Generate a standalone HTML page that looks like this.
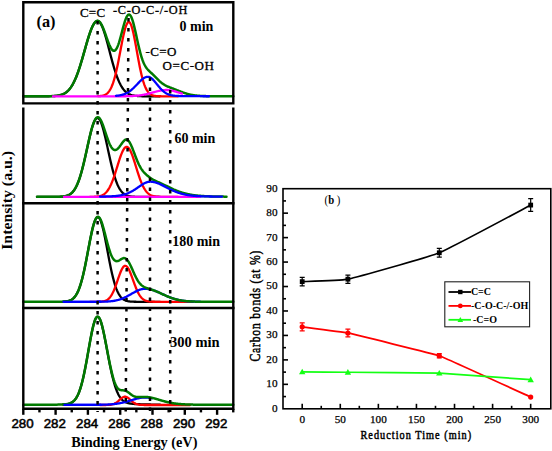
<!DOCTYPE html>
<html><head><meta charset="utf-8"><style>
html,body{margin:0;padding:0;background:#fff;}
body{width:552px;height:451px;overflow:hidden;position:relative;}
svg{position:absolute;left:0;top:0;}
.serif{font-family:"Liberation Serif",serif;}
.sans{font-family:"Liberation Sans",sans-serif;}
</style></head><body>
<svg width="552" height="451" viewBox="0 0 552 451">
<g stroke-linecap="round" stroke-linejoin="round">
<path d="M23.30,96.30 L23.80,96.30 L24.30,96.30 L24.80,96.30 L25.30,96.30 L25.80,96.30 L26.30,96.30 L26.80,96.30 L27.30,96.30 L27.80,96.30 L28.30,96.30 L28.80,96.30 L29.30,96.30 L29.80,96.30 L30.30,96.30 L30.80,96.30 L31.30,96.30 L31.80,96.30 L32.30,96.30 L32.80,96.30 L33.30,96.30 L33.80,96.30 L34.30,96.30 L34.80,96.30 L35.30,96.30 L35.80,96.30 L36.30,96.30 L36.80,96.30 L37.30,96.30 L37.80,96.30 L38.30,96.30 L38.80,96.30 L39.30,96.30 L39.80,96.30 L40.30,96.30 L40.80,96.30 L41.30,96.29 L41.80,96.29 L42.30,96.29 L42.80,96.29 L43.30,96.29 L43.80,96.29 L44.30,96.28 L44.80,96.28 L45.30,96.28 L45.80,96.28 L46.30,96.27 L46.80,96.27 L47.30,96.26 L47.80,96.25 L48.30,96.25 L48.80,96.24 L49.30,96.23 L49.80,96.22 L50.30,96.21 L50.80,96.19 L51.30,96.18 L51.80,96.16 L52.30,96.14 L52.80,96.11 L53.30,96.09 L53.80,96.06 L54.30,96.02 L54.80,95.98 L55.30,95.94 L55.80,95.89 L56.30,95.84 L56.80,95.78 L57.30,95.71 L57.80,95.63 L58.30,95.55 L58.80,95.46 L59.30,95.35 L59.80,95.24 L60.30,95.11 L60.80,94.98 L61.30,94.82 L61.80,94.65 L62.30,94.47 L62.80,94.27 L63.30,94.05 L63.80,93.81 L64.30,93.54 L64.80,93.26 L65.30,92.94 L65.80,92.61 L66.30,92.24 L66.80,91.85 L67.30,91.42 L67.80,90.96 L68.30,90.47 L68.80,89.94 L69.30,89.37 L69.80,88.77 L70.30,88.12 L70.80,87.43 L71.30,86.70 L71.80,85.92 L72.30,85.10 L72.80,84.22 L73.30,83.31 L73.80,82.34 L74.30,81.32 L74.80,80.25 L75.30,79.13 L75.80,77.97 L76.30,76.75 L76.80,75.48 L77.30,74.16 L77.80,72.80 L78.30,71.38 L78.80,69.93 L79.30,68.43 L79.80,66.88 L80.30,65.30 L80.80,63.68 L81.30,62.03 L81.80,60.36 L82.30,58.65 L82.80,56.92 L83.30,55.18 L83.80,53.42 L84.30,51.66 L84.80,49.89 L85.30,48.12 L85.80,46.36 L86.30,44.62 L86.80,42.89 L87.30,41.19 L87.80,39.52 L88.30,37.89 L88.80,36.30 L89.30,34.76 L89.80,33.27 L90.30,31.85 L90.80,30.49 L91.30,29.20 L91.80,27.99 L92.30,26.87 L92.80,25.83 L93.30,24.88 L93.80,24.03 L94.30,23.28 L94.80,22.63 L95.30,22.09 L95.80,21.65 L96.30,21.32 L96.80,21.11 L97.30,21.01 L97.80,21.02 L98.30,21.17 L98.80,21.45 L99.30,21.86 L99.80,22.40 L100.30,23.06 L100.80,23.84 L101.30,24.75 L101.80,25.77 L102.30,26.89 L102.80,28.12 L103.30,29.45 L103.80,30.86 L104.30,32.36 L104.80,33.93 L105.30,35.58 L105.80,37.28 L106.30,39.04 L106.80,40.84 L107.30,42.68 L107.80,44.56 L108.30,46.45 L108.80,48.36 L109.30,50.28 L109.80,52.20 L110.30,54.11 L110.80,56.02 L111.30,57.90 L111.80,59.76 L112.30,61.60 L112.80,63.39 L113.30,65.16 L113.80,66.87 L114.30,68.55 L114.80,70.17 L115.30,71.74 L115.80,73.26 L116.30,74.72 L116.80,76.13 L117.30,77.48 L117.80,78.77 L118.30,80.00 L118.80,81.16 L119.30,82.28 L119.80,83.33 L120.30,84.32 L120.80,85.26 L121.30,86.14 L121.80,86.97 L122.30,87.75 L122.80,88.47 L123.30,89.15 L123.80,89.78 L124.30,90.36 L124.80,90.90 L125.30,91.40 L125.80,91.87 L126.30,92.29 L126.80,92.68 L127.30,93.04 L127.80,93.37 L128.30,93.67 L128.80,93.94 L129.30,94.19 L129.80,94.42 L130.30,94.62 L130.80,94.81 L131.30,94.98 L131.80,95.13 L132.30,95.26 L132.80,95.38 L133.30,95.49 L133.80,95.59 L134.30,95.67 L134.80,95.75 L135.30,95.82 L135.80,95.88 L136.30,95.93 L136.80,95.98 L137.30,96.02 L137.80,96.06 L138.30,96.09 L138.80,96.12 L139.30,96.14 L139.80,96.17 L140.30,96.18 L140.80,96.20 L141.30,96.21 L141.80,96.23 L142.30,96.24 L142.80,96.25 L143.30,96.25 L143.80,96.26 L144.30,96.27 L144.80,96.27 L145.30,96.28 L145.80,96.28 L146.30,96.28 L146.80,96.29 L147.30,96.29 L147.80,96.29 L148.30,96.29 L148.80,96.29 L149.30,96.29 L149.80,96.30 L150.30,96.30 L150.80,96.30 L151.30,96.30 L151.80,96.30 L152.30,96.30 L152.80,96.30 L153.30,96.30 L153.80,96.30 L154.30,96.30 L154.80,96.30 L155.30,96.30 L155.80,96.30 L156.30,96.30 L156.80,96.30 L157.30,96.30 L157.80,96.30 L158.30,96.30 L158.80,96.30 L159.30,96.30 L159.80,96.30" stroke="#000000" stroke-width="2.3" fill="none"/>
<path d="M98.00,96.20 L98.50,96.17 L99.00,96.14 L99.50,96.11 L100.00,96.06 L100.50,96.01 L101.00,95.95 L101.50,95.88 L102.00,95.79 L102.50,95.69 L103.00,95.56 L103.50,95.42 L104.00,95.25 L104.50,95.06 L105.00,94.84 L105.50,94.58 L106.00,94.28 L106.50,93.93 L107.00,93.54 L107.50,93.10 L108.00,92.60 L108.50,92.03 L109.00,91.39 L109.50,90.68 L110.00,89.89 L110.50,89.01 L111.00,88.04 L111.50,86.97 L112.00,85.80 L112.50,84.52 L113.00,83.13 L113.50,81.63 L114.00,80.02 L114.50,78.29 L115.00,76.45 L115.50,74.50 L116.00,72.43 L116.50,70.26 L117.00,68.00 L117.50,65.64 L118.00,63.20 L118.50,60.69 L119.00,58.12 L119.50,55.50 L120.00,52.86 L120.50,50.21 L121.00,47.56 L121.50,44.95 L122.00,42.37 L122.50,39.87 L123.00,37.45 L123.50,35.15 L124.00,32.97 L124.50,30.94 L125.00,29.08 L125.50,27.40 L126.00,25.93 L126.50,24.68 L127.00,23.65 L127.50,22.87 L128.00,22.33 L128.50,22.05 L129.00,22.02 L129.50,22.28 L130.00,22.82 L130.50,23.63 L131.00,24.71 L131.50,26.05 L132.00,27.62 L132.50,29.42 L133.00,31.41 L133.50,33.59 L134.00,35.93 L134.50,38.41 L135.00,40.99 L135.50,43.67 L136.00,46.40 L136.50,49.18 L137.00,51.97 L137.50,54.75 L138.00,57.51 L138.50,60.23 L139.00,62.88 L139.50,65.46 L140.00,67.95 L140.50,70.33 L141.00,72.61 L141.50,74.77 L142.00,76.81 L142.50,78.72 L143.00,80.51 L143.50,82.17 L144.00,83.70 L144.50,85.11 L145.00,86.40 L145.50,87.58 L146.00,88.64 L146.50,89.60 L147.00,90.46 L147.50,91.23 L148.00,91.92 L148.50,92.53 L149.00,93.06 L149.50,93.53 L150.00,93.95 L150.50,94.30 L151.00,94.61 L151.50,94.88 L152.00,95.11 L152.50,95.31 L153.00,95.47 L153.50,95.61 L154.00,95.73 L154.50,95.83 L155.00,95.92 L155.50,95.99 L156.00,96.05 L156.50,96.10 L157.00,96.13 L157.50,96.17 L158.00,96.19 L158.50,96.22 L159.00,96.23 L159.50,96.25 L160.00,96.26 L160.50,96.27 L161.00,96.27 L161.50,96.28 L162.00,96.28 L162.50,96.29 L163.00,96.29 L163.50,96.29 L164.00,96.29 L164.50,96.30 L165.00,96.30 L165.50,96.30 L166.00,96.30 L166.50,96.30 L167.00,96.30 L167.50,96.30 L168.00,96.30 L168.50,96.30 L169.00,96.30 L169.50,96.30 L170.00,96.30 L170.50,96.30 L171.00,96.30 L171.50,96.30 L172.00,96.30 L172.50,96.30 L173.00,96.30 L173.50,96.30 L174.00,96.30 L174.50,96.30 L175.00,96.30 L175.50,96.30 L176.00,96.30 L176.50,96.30 L177.00,96.30 L177.50,96.30 L178.00,96.30" stroke="#ff0000" stroke-width="2.3" fill="none"/>
<path d="M23.30,96.28 L23.80,96.28 L24.30,96.28 L24.80,96.28 L25.30,96.28 L25.80,96.28 L26.30,96.28 L26.80,96.28 L27.30,96.28 L27.80,96.28 L28.30,96.28 L28.80,96.28 L29.30,96.28 L29.80,96.28 L30.30,96.28 L30.80,96.28 L31.30,96.28 L31.80,96.28 L32.30,96.28 L32.80,96.28 L33.30,96.28 L33.80,96.28 L34.30,96.28 L34.80,96.27 L35.30,96.27 L35.80,96.27 L36.30,96.27 L36.80,96.27 L37.30,96.27 L37.80,96.27 L38.30,96.27 L38.80,96.27 L39.30,96.27 L39.80,96.27 L40.30,96.27 L40.80,96.27 L41.30,96.27 L41.80,96.27 L42.30,96.26 L42.80,96.26 L43.30,96.26 L43.80,96.26 L44.30,96.26 L44.80,96.25 L45.30,96.25 L45.80,96.24 L46.30,96.24 L46.80,96.24 L47.30,96.23 L47.80,96.22 L48.30,96.22 L48.80,96.21 L49.30,96.20 L49.80,96.19 L50.30,96.17 L50.80,96.16 L51.30,96.14 L51.80,96.12 L52.30,96.10 L52.80,96.08 L53.30,96.05 L53.80,96.02 L54.30,95.99 L54.80,95.95 L55.30,95.90 L55.80,95.85 L56.30,95.80 L56.80,95.74 L57.30,95.67 L57.80,95.60 L58.30,95.51 L58.80,95.42 L59.30,95.31 L59.80,95.20 L60.30,95.07 L60.80,94.93 L61.30,94.78 L61.80,94.61 L62.30,94.43 L62.80,94.22 L63.30,94.00 L63.80,93.76 L64.30,93.50 L64.80,93.21 L65.30,92.90 L65.80,92.56 L66.30,92.19 L66.80,91.80 L67.30,91.37 L67.80,90.91 L68.30,90.42 L68.80,89.89 L69.30,89.32 L69.80,88.71 L70.30,88.07 L70.80,87.38 L71.30,86.64 L71.80,85.87 L72.30,85.04 L72.80,84.17 L73.30,83.25 L73.80,82.28 L74.30,81.26 L74.80,80.19 L75.30,79.08 L75.80,77.91 L76.30,76.69 L76.80,75.42 L77.30,74.10 L77.80,72.73 L78.30,71.32 L78.80,69.86 L79.30,68.36 L79.80,66.82 L80.30,65.23 L80.80,63.62 L81.30,61.97 L81.80,60.28 L82.30,58.58 L82.80,56.85 L83.30,55.10 L83.80,53.35 L84.30,51.58 L84.80,49.81 L85.30,48.04 L85.80,46.28 L86.30,44.53 L86.80,42.81 L87.30,41.11 L87.80,39.43 L88.30,37.80 L88.80,36.21 L89.30,34.67 L89.80,33.18 L90.30,31.75 L90.80,30.39 L91.30,29.10 L91.80,27.89 L92.30,26.76 L92.80,25.72 L93.30,24.77 L93.80,23.91 L94.30,23.15 L94.80,22.50 L95.30,21.94 L95.80,21.50 L96.30,21.16 L96.80,20.93 L97.30,20.81 L97.80,20.81 L98.30,20.93 L98.80,21.18 L99.30,21.55 L99.80,22.05 L100.30,22.66 L100.80,23.38 L101.30,24.22 L101.80,25.15 L102.30,26.17 L102.80,27.29 L103.30,28.47 L103.80,29.73 L104.30,31.04 L104.80,32.40 L105.30,33.79 L105.80,35.21 L106.30,36.63 L106.80,38.06 L107.30,39.47 L107.80,40.86 L108.30,42.21 L108.80,43.50 L109.30,44.73 L109.80,45.88 L110.30,46.93 L110.80,47.89 L111.30,48.73 L111.80,49.44 L112.30,50.02 L112.80,50.46 L113.30,50.74 L113.80,50.87 L114.30,50.83 L114.80,50.62 L115.30,50.25 L115.80,49.71 L116.30,48.99 L116.80,48.12 L117.30,47.08 L117.80,45.90 L118.30,44.57 L118.80,43.11 L119.30,41.53 L119.80,39.86 L120.30,38.09 L120.80,36.26 L121.30,34.38 L121.80,32.47 L122.30,30.56 L122.80,28.66 L123.30,26.80 L123.80,25.00 L124.30,23.28 L124.80,21.66 L125.30,20.17 L125.80,18.82 L126.30,17.63 L126.80,16.61 L127.30,15.79 L127.80,15.16 L128.30,14.74 L128.80,14.53 L129.30,14.55 L129.80,14.82 L130.30,15.33 L130.80,16.08 L131.30,17.05 L131.80,18.24 L132.30,19.63 L132.80,21.21 L133.30,22.94 L133.80,24.83 L134.30,26.83 L134.80,28.94 L135.30,31.12 L135.80,33.36 L136.30,35.64 L136.80,37.92 L137.30,40.20 L137.80,42.46 L138.30,44.67 L138.80,46.82 L139.30,48.90 L139.80,50.89 L140.30,52.80 L140.80,54.60 L141.30,56.30 L141.80,57.89 L142.30,59.38 L142.80,60.75 L143.30,62.02 L143.80,63.19 L144.30,64.26 L144.80,65.24 L145.30,66.13 L145.80,66.94 L146.30,67.68 L146.80,68.35 L147.30,68.97 L147.80,69.54 L148.30,70.07 L148.80,70.58 L149.30,71.08 L149.80,71.57 L150.30,72.05 L150.80,72.53 L151.30,73.01 L151.80,73.49 L152.30,73.97 L152.80,74.46 L153.30,74.96 L153.80,75.46 L154.30,75.96 L154.80,76.47 L155.30,76.98 L155.80,77.48 L156.30,77.99 L156.80,78.49 L157.30,78.99 L157.80,79.48 L158.30,79.97 L158.80,80.44 L159.30,80.91 L159.80,81.36 L160.30,81.79 L160.80,82.22 L161.30,82.62 L161.80,83.02 L162.30,83.39 L162.80,83.75 L163.30,84.10 L163.80,84.42 L164.30,84.73 L164.80,85.03 L165.30,85.31 L165.80,85.58 L166.30,85.83 L166.80,86.07 L167.30,86.31 L167.80,86.53 L168.30,86.75 L168.80,86.96 L169.30,87.17 L169.80,87.37 L170.30,87.57 L170.80,87.77 L171.30,87.96 L171.80,88.16 L172.30,88.35 L172.80,88.54 L173.30,88.73 L173.80,88.93 L174.30,89.12 L174.80,89.32 L175.30,89.51 L175.80,89.71 L176.30,89.90 L176.80,90.10 L177.30,90.30 L177.80,90.49 L178.30,90.69 L178.80,90.89 L179.30,91.08 L179.80,91.28 L180.30,91.47 L180.80,91.66 L181.30,91.85 L181.80,92.04 L182.30,92.22 L182.80,92.40 L183.30,92.58 L183.80,92.76 L184.30,92.93 L184.80,93.09 L185.30,93.25 L185.80,93.41 L186.30,93.56 L186.80,93.71 L187.30,93.85 L187.80,93.99 L188.30,94.12 L188.80,94.25 L189.30,94.37 L189.80,94.49 L190.30,94.60 L190.80,94.70 L191.30,94.81 L191.80,94.90 L192.30,94.99 L192.80,95.08 L193.30,95.16 L193.80,95.24 L194.30,95.31 L194.80,95.38 L195.30,95.44 L195.80,95.50 L196.30,95.56 L196.80,95.61 L197.30,95.66 L197.80,95.71 L198.30,95.75 L198.80,95.79 L199.30,95.83 L199.80,95.87 L200.30,95.90 L200.80,95.93 L201.30,95.96 L201.80,95.98 L202.30,96.00 L202.80,96.03 L203.30,96.05 L203.80,96.07 L204.30,96.08 L204.80,96.10 L205.30,96.11 L205.80,96.12 L206.30,96.14 L206.80,96.15 L207.30,96.16 L207.80,96.17 L208.30,96.18 L208.80,96.18 L209.30,96.19 L209.80,96.20 L210.30,96.20 L210.80,96.21 L211.30,96.21 L211.80,96.22 L212.30,96.22 L212.80,96.22 L213.30,96.23 L213.80,96.23 L214.30,96.23 L214.80,96.24 L215.30,96.24 L215.80,96.24 L216.30,96.24 L216.80,96.24 L217.30,96.25 L217.80,96.25 L218.30,96.25 L218.80,96.25 L219.30,96.25 L219.80,96.25 L220.30,96.25 L220.80,96.25 L221.30,96.26 L221.80,96.26 L222.30,96.26 L222.80,96.26 L223.30,96.26 L223.80,96.26 L224.30,96.26 L224.80,96.26 L225.30,96.26 L225.80,96.26 L226.30,96.26 L226.80,96.26 L227.30,96.26 L227.80,96.26 L228.30,96.26 L228.80,96.26 L229.30,96.26 L229.80,96.27 L230.30,96.27 L230.80,96.27 L231.30,96.27 L231.80,96.27 L232.30,96.27 L232.80,96.27 L233.30,96.27" stroke="#007a00" stroke-width="2.5" fill="none"/>
<path d="M53.00,96.30 L53.50,96.30 L54.00,96.30 L54.50,96.30 L55.00,96.30 L55.50,96.30 L56.00,96.30 L56.50,96.30 L57.00,96.30 L57.50,96.30 L58.00,96.30 L58.50,96.30 L59.00,96.30 L59.50,96.30 L60.00,96.30 L60.50,96.30 L61.00,96.30 L61.50,96.30 L62.00,96.30 L62.50,96.30 L63.00,96.30 L63.50,96.30 L64.00,96.30 L64.50,96.30 L65.00,96.30 L65.50,96.30 L66.00,96.30 L66.50,96.30 L67.00,96.30 L67.50,96.30 L68.00,96.30 L68.50,96.30 L69.00,96.30 L69.50,96.30 L70.00,96.30 L70.50,96.30 L71.00,96.30 L71.50,96.30 L72.00,96.30 L72.50,96.30 L73.00,96.30 L73.50,96.30 L74.00,96.30 L74.50,96.30 L75.00,96.30 L75.50,96.30 L76.00,96.30 L76.50,96.30 L77.00,96.30 L77.50,96.30 L78.00,96.30 L78.50,96.30 L79.00,96.30 L79.50,96.30 L80.00,96.30 L80.50,96.30 L81.00,96.30 L81.50,96.30 L82.00,96.30 L82.50,96.30 L83.00,96.30 L83.50,96.30 L84.00,96.30 L84.50,96.30 L85.00,96.30 L85.50,96.30 L86.00,96.30 L86.50,96.30 L87.00,96.30 L87.50,96.30 L88.00,96.30 L88.50,96.30 L89.00,96.30 L89.50,96.30 L90.00,96.30 L90.50,96.30 L91.00,96.30 L91.50,96.30 L92.00,96.30 L92.50,96.30 L93.00,96.30 L93.50,96.30 L94.00,96.30 L94.50,96.30 L95.00,96.30 L95.50,96.30 L96.00,96.30 L96.50,96.30 L97.00,96.30 L97.50,96.30 L98.00,96.30 L98.50,96.30 L99.00,96.30 L99.50,96.30 L100.00,96.30 L100.50,96.30 L101.00,96.30 L101.50,96.30 L102.00,96.30 L102.50,96.30 L103.00,96.30 L103.50,96.30 L104.00,96.30 L104.50,96.30 L105.00,96.30 L105.50,96.30 L106.00,96.30 L106.50,96.30 L107.00,96.30 L107.50,96.30 L108.00,96.30 L108.50,96.30 L109.00,96.30 L109.50,96.30 L110.00,96.30 L110.50,96.30 L111.00,96.30 L111.50,96.30 L112.00,96.30 L112.50,96.30 L113.00,96.30 L113.50,96.30 L114.00,96.30 L114.50,96.30 L115.00,96.30 L115.50,96.29 L116.00,96.29 L116.50,96.29 L117.00,96.29 L117.50,96.29 L118.00,96.29 L118.50,96.29 L119.00,96.29 L119.50,96.28 L120.00,96.28 L120.50,96.28 L121.00,96.28 L121.50,96.27 L122.00,96.27 L122.50,96.27 L123.00,96.26 L123.50,96.26 L124.00,96.25 L124.50,96.25 L125.00,96.24 L125.50,96.23 L126.00,96.23 L126.50,96.22 L127.00,96.21 L127.50,96.20 L128.00,96.19 L128.50,96.17 L129.00,96.16 L129.50,96.15 L130.00,96.13 L130.50,96.11 L131.00,96.09 L131.50,96.07 L132.00,96.05 L132.50,96.02 L133.00,96.00 L133.50,95.97 L134.00,95.94 L134.50,95.91 L135.00,95.87 L135.50,95.83 L136.00,95.79 L136.50,95.75 L137.00,95.70 L137.50,95.65 L138.00,95.60 L138.50,95.55 L139.00,95.49 L139.50,95.42 L140.00,95.36 L140.50,95.29 L141.00,95.22 L141.50,95.14 L142.00,95.06 L142.50,94.98 L143.00,94.89 L143.50,94.80 L144.00,94.70 L144.50,94.60 L145.00,94.50 L145.50,94.39 L146.00,94.28 L146.50,94.17 L147.00,94.05 L147.50,93.93 L148.00,93.81 L148.50,93.68 L149.00,93.55 L149.50,93.42 L150.00,93.29 L150.50,93.15 L151.00,93.01 L151.50,92.87 L152.00,92.73 L152.50,92.59 L153.00,92.45 L153.50,92.31 L154.00,92.17 L154.50,92.03 L155.00,91.90 L155.50,91.76 L156.00,91.63 L156.50,91.49 L157.00,91.37 L157.50,91.24 L158.00,91.12 L158.50,91.00 L159.00,90.89 L159.50,90.78 L160.00,90.68 L160.50,90.59 L161.00,90.50 L161.50,90.41 L162.00,90.34 L162.50,90.27 L163.00,90.21 L163.50,90.15 L164.00,90.11 L164.50,90.07 L165.00,90.04 L165.50,90.02 L166.00,90.00 L166.50,90.00 L167.00,90.01 L167.50,90.02 L168.00,90.05 L168.50,90.09 L169.00,90.14 L169.50,90.20 L170.00,90.27 L170.50,90.35 L171.00,90.44 L171.50,90.53 L172.00,90.64 L172.50,90.75 L173.00,90.87 L173.50,91.00 L174.00,91.14 L174.50,91.28 L175.00,91.42 L175.50,91.57 L176.00,91.72 L176.50,91.88 L177.00,92.03 L177.50,92.19 L178.00,92.35 L178.50,92.51 L179.00,92.67 L179.50,92.83 L180.00,92.99 L180.50,93.15 L181.00,93.30 L181.50,93.46 L182.00,93.61" stroke="#ff00ff" stroke-width="2.3" fill="none"/>
<path d="M116.00,95.78 L116.50,95.74 L117.00,95.70 L117.50,95.64 L118.00,95.59 L118.50,95.52 L119.00,95.45 L119.50,95.38 L120.00,95.29 L120.50,95.20 L121.00,95.10 L121.50,94.99 L122.00,94.86 L122.50,94.73 L123.00,94.59 L123.50,94.43 L124.00,94.26 L124.50,94.08 L125.00,93.89 L125.50,93.68 L126.00,93.45 L126.50,93.21 L127.00,92.95 L127.50,92.68 L128.00,92.38 L128.50,92.07 L129.00,91.75 L129.50,91.40 L130.00,91.04 L130.50,90.66 L131.00,90.27 L131.50,89.85 L132.00,89.42 L132.50,88.98 L133.00,88.52 L133.50,88.04 L134.00,87.56 L134.50,87.06 L135.00,86.55 L135.50,86.03 L136.00,85.51 L136.50,84.98 L137.00,84.45 L137.50,83.91 L138.00,83.38 L138.50,82.85 L139.00,82.33 L139.50,81.81 L140.00,81.31 L140.50,80.82 L141.00,80.35 L141.50,79.89 L142.00,79.46 L142.50,79.05 L143.00,78.67 L143.50,78.32 L144.00,78.00 L144.50,77.71 L145.00,77.46 L145.50,77.25 L146.00,77.08 L146.50,76.94 L147.00,76.86 L147.50,76.81 L148.00,76.80 L148.50,76.86 L149.00,76.97 L149.50,77.13 L150.00,77.35 L150.50,77.63 L151.00,77.95 L151.50,78.32 L152.00,78.73 L152.50,79.19 L153.00,79.67 L153.50,80.19 L154.00,80.74 L154.50,81.31 L155.00,81.89 L155.50,82.50 L156.00,83.11 L156.50,83.72 L157.00,84.35 L157.50,84.97 L158.00,85.58 L158.50,86.19 L159.00,86.79 L159.50,87.37 L160.00,87.94 L160.50,88.50 L161.00,89.03 L161.50,89.55 L162.00,90.04 L162.50,90.51 L163.00,90.96 L163.50,91.38 L164.00,91.78 L164.50,92.16 L165.00,92.51 L165.50,92.84 L166.00,93.15 L166.50,93.43 L167.00,93.69 L167.50,93.94 L168.00,94.16 L168.50,94.36 L169.00,94.55 L169.50,94.72 L170.00,94.87 L170.50,95.01 L171.00,95.14 L171.50,95.25 L172.00,95.35 L172.50,95.44 L173.00,95.53 L173.50,95.60 L174.00,95.66 L174.50,95.72 L175.00,95.77 L175.50,95.82 L176.00,95.86 L176.50,95.89 L177.00,95.92 L177.50,95.95 L178.00,95.98 L178.50,96.00 L179.00,96.02 L179.50,96.03 L180.00,96.05 L180.50,96.06 L181.00,96.08 L181.50,96.09 L182.00,96.10 L182.50,96.10 L183.00,96.11 L183.50,96.12 L184.00,96.13 L184.50,96.13 L185.00,96.14 L185.50,96.14 L186.00,96.15 L186.50,96.15 L187.00,96.16 L187.50,96.16 L188.00,96.16 L188.50,96.17 L189.00,96.17 L189.50,96.17 L190.00,96.18 L190.50,96.18 L191.00,96.18 L191.50,96.18 L192.00,96.19 L192.50,96.19 L193.00,96.19 L193.50,96.19 L194.00,96.20 L194.50,96.20 L195.00,96.20 L195.50,96.20 L196.00,96.20 L196.50,96.21 L197.00,96.21 L197.50,96.21 L198.00,96.21 L198.50,96.21 L199.00,96.21 L199.50,96.22 L200.00,96.22 L200.50,96.22 L201.00,96.22 L201.50,96.22 L202.00,96.22 L202.50,96.22 L203.00,96.23 L203.50,96.23 L204.00,96.23 L204.50,96.23 L205.00,96.23 L205.50,96.23 L206.00,96.23 L206.50,96.23 L207.00,96.23 L207.50,96.24 L208.00,96.24 L208.50,96.24 L209.00,96.24" stroke="#0000ff" stroke-width="2.3" fill="none"/><path d="M37.00,196.90 L37.50,196.90 L38.00,196.90 L38.50,196.90 L39.00,196.90 L39.50,196.90 L40.00,196.90 L40.50,196.90 L41.00,196.90 L41.50,196.90 L42.00,196.90 L42.50,196.90 L43.00,196.90 L43.50,196.90 L44.00,196.90 L44.50,196.90 L45.00,196.90 L45.50,196.90 L46.00,196.90 L46.50,196.90 L47.00,196.90 L47.50,196.90 L48.00,196.90 L48.50,196.90 L49.00,196.90 L49.50,196.90 L50.00,196.90 L50.50,196.90 L51.00,196.90 L51.50,196.89 L52.00,196.89 L52.50,196.89 L53.00,196.89 L53.50,196.89 L54.00,196.88 L54.50,196.88 L55.00,196.88 L55.50,196.87 L56.00,196.87 L56.50,196.86 L57.00,196.85 L57.50,196.84 L58.00,196.83 L58.50,196.82 L59.00,196.80 L59.50,196.78 L60.00,196.76 L60.50,196.74 L61.00,196.71 L61.50,196.67 L62.00,196.63 L62.50,196.58 L63.00,196.53 L63.50,196.47 L64.00,196.40 L64.50,196.32 L65.00,196.23 L65.50,196.12 L66.00,196.00 L66.50,195.86 L67.00,195.71 L67.50,195.54 L68.00,195.34 L68.50,195.12 L69.00,194.87 L69.50,194.60 L70.00,194.29 L70.50,193.95 L71.00,193.57 L71.50,193.15 L72.00,192.69 L72.50,192.19 L73.00,191.63 L73.50,191.02 L74.00,190.36 L74.50,189.63 L75.00,188.85 L75.50,188.00 L76.00,187.08 L76.50,186.09 L77.00,185.03 L77.50,183.90 L78.00,182.69 L78.50,181.40 L79.00,180.03 L79.50,178.59 L80.00,177.06 L80.50,175.46 L81.00,173.78 L81.50,172.02 L82.00,170.19 L82.50,168.29 L83.00,166.32 L83.50,164.29 L84.00,162.20 L84.50,160.07 L85.00,157.89 L85.50,155.68 L86.00,153.43 L86.50,151.17 L87.00,148.90 L87.50,146.63 L88.00,144.37 L88.50,142.14 L89.00,139.93 L89.50,137.77 L90.00,135.67 L90.50,133.64 L91.00,131.68 L91.50,129.82 L92.00,128.06 L92.50,126.41 L93.00,124.88 L93.50,123.49 L94.00,122.24 L94.50,121.14 L95.00,120.19 L95.50,119.41 L96.00,118.80 L96.50,118.35 L97.00,118.09 L97.50,118.00 L98.00,118.09 L98.50,118.37 L99.00,118.82 L99.50,119.46 L100.00,120.26 L100.50,121.24 L101.00,122.38 L101.50,123.67 L102.00,125.10 L102.50,126.67 L103.00,128.37 L103.50,130.18 L104.00,132.09 L104.50,134.10 L105.00,136.18 L105.50,138.34 L106.00,140.54 L106.50,142.79 L107.00,145.07 L107.50,147.37 L108.00,149.68 L108.50,151.99 L109.00,154.28 L109.50,156.55 L110.00,158.79 L110.50,160.99 L111.00,163.13 L111.50,165.23 L112.00,167.26 L112.50,169.23 L113.00,171.13 L113.50,172.95 L114.00,174.70 L114.50,176.36 L115.00,177.95 L115.50,179.45 L116.00,180.87 L116.50,182.21 L117.00,183.47 L117.50,184.65 L118.00,185.75 L118.50,186.78 L119.00,187.73 L119.50,188.62 L120.00,189.43 L120.50,190.18 L121.00,190.87 L121.50,191.50 L122.00,192.08 L122.50,192.60 L123.00,193.08 L123.50,193.51 L124.00,193.90 L124.50,194.25 L125.00,194.57 L125.50,194.85 L126.00,195.10 L126.50,195.33 L127.00,195.53 L127.50,195.71 L128.00,195.86 L128.50,196.00 L129.00,196.12 L129.50,196.23 L130.00,196.32 L130.50,196.41 L131.00,196.48 L131.50,196.54 L132.00,196.59 L132.50,196.64 L133.00,196.68 L133.50,196.71 L134.00,196.74 L134.50,196.77 L135.00,196.79 L135.50,196.81 L136.00,196.82 L136.50,196.83 L137.00,196.84 L137.50,196.85 L138.00,196.86 L138.50,196.87 L139.00,196.87 L139.50,196.88 L140.00,196.88 L140.50,196.89 L141.00,196.89 L141.50,196.89 L142.00,196.89 L142.50,196.89 L143.00,196.89 L143.50,196.90 L144.00,196.90 L144.50,196.90 L145.00,196.90 L145.50,196.90 L146.00,196.90 L146.50,196.90 L147.00,196.90 L147.50,196.90 L148.00,196.90 L148.50,196.90 L149.00,196.90 L149.50,196.90 L150.00,196.90 L150.50,196.90 L151.00,196.90 L151.50,196.90 L152.00,196.90 L152.50,196.90 L153.00,196.90 L153.50,196.90 L154.00,196.90 L154.50,196.90 L155.00,196.90 L155.50,196.90 L156.00,196.90 L156.50,196.90 L157.00,196.90 L157.50,196.90 L158.00,196.90 L158.50,196.90 L159.00,196.90 L159.50,196.90 L160.00,196.90" stroke="#000000" stroke-width="2.3" fill="none"/>
<path d="M90.00,196.88 L90.50,196.87 L91.00,196.86 L91.50,196.86 L92.00,196.85 L92.50,196.84 L93.00,196.82 L93.50,196.81 L94.00,196.79 L94.50,196.76 L95.00,196.74 L95.50,196.70 L96.00,196.67 L96.50,196.62 L97.00,196.57 L97.50,196.51 L98.00,196.44 L98.50,196.36 L99.00,196.26 L99.50,196.16 L100.00,196.03 L100.50,195.89 L101.00,195.73 L101.50,195.55 L102.00,195.34 L102.50,195.11 L103.00,194.84 L103.50,194.55 L104.00,194.22 L104.50,193.85 L105.00,193.45 L105.50,193.00 L106.00,192.50 L106.50,191.96 L107.00,191.36 L107.50,190.71 L108.00,190.01 L108.50,189.25 L109.00,188.42 L109.50,187.54 L110.00,186.59 L110.50,185.57 L111.00,184.50 L111.50,183.36 L112.00,182.15 L112.50,180.89 L113.00,179.57 L113.50,178.19 L114.00,176.76 L114.50,175.29 L115.00,173.77 L115.50,172.21 L116.00,170.63 L116.50,169.03 L117.00,167.41 L117.50,165.79 L118.00,164.17 L118.50,162.56 L119.00,160.99 L119.50,159.44 L120.00,157.94 L120.50,156.50 L121.00,155.12 L121.50,153.82 L122.00,152.61 L122.50,151.49 L123.00,150.48 L123.50,149.58 L124.00,148.80 L124.50,148.15 L125.00,147.63 L125.50,147.25 L126.00,147.00 L126.50,146.90 L127.00,146.95 L127.50,147.13 L128.00,147.46 L128.50,147.92 L129.00,148.52 L129.50,149.25 L130.00,150.10 L130.50,151.07 L131.00,152.15 L131.50,153.33 L132.00,154.59 L132.50,155.94 L133.00,157.36 L133.50,158.84 L134.00,160.36 L134.50,161.93 L135.00,163.52 L135.50,165.14 L136.00,166.76 L136.50,168.38 L137.00,169.99 L137.50,171.58 L138.00,173.15 L138.50,174.68 L139.00,176.18 L139.50,177.63 L140.00,179.02 L140.50,180.37 L141.00,181.66 L141.50,182.88 L142.00,184.05 L142.50,185.15 L143.00,186.19 L143.50,187.16 L144.00,188.07 L144.50,188.92 L145.00,189.71 L145.50,190.44 L146.00,191.11 L146.50,191.73 L147.00,192.29 L147.50,192.81 L148.00,193.27 L148.50,193.70 L149.00,194.08 L149.50,194.42 L150.00,194.73 L150.50,195.00 L151.00,195.25 L151.50,195.47 L152.00,195.66 L152.50,195.83 L153.00,195.98 L153.50,196.11 L154.00,196.22 L154.50,196.32 L155.00,196.41 L155.50,196.48 L156.00,196.55 L156.50,196.60 L157.00,196.65 L157.50,196.69 L158.00,196.72 L158.50,196.75 L159.00,196.78 L159.50,196.80 L160.00,196.82 L160.50,196.83 L161.00,196.84 L161.50,196.85 L162.00,196.86 L162.50,196.87 L163.00,196.87 L163.50,196.88 L164.00,196.88 L164.50,196.89 L165.00,196.89 L165.50,196.89 L166.00,196.89 L166.50,196.89 L167.00,196.90 L167.50,196.90 L168.00,196.90 L168.50,196.90 L169.00,196.90 L169.50,196.90 L170.00,196.90 L170.50,196.90 L171.00,196.90 L171.50,196.90 L172.00,196.90 L172.50,196.90 L173.00,196.90 L173.50,196.90 L174.00,196.90 L174.50,196.90 L175.00,196.90 L175.50,196.90 L176.00,196.90 L176.50,196.90 L177.00,196.90 L177.50,196.90 L178.00,196.90" stroke="#ff0000" stroke-width="2.3" fill="none"/>
<path d="M37.00,196.83 L37.50,196.83 L38.00,196.83 L38.50,196.83 L39.00,196.83 L39.50,196.83 L40.00,196.83 L40.50,196.83 L41.00,196.83 L41.50,196.83 L42.00,196.83 L42.50,196.83 L43.00,196.83 L43.50,196.83 L44.00,196.83 L44.50,196.82 L45.00,196.82 L45.50,196.82 L46.00,196.82 L46.50,196.82 L47.00,196.82 L47.50,196.82 L48.00,196.82 L48.50,196.82 L49.00,196.82 L49.50,196.82 L50.00,196.81 L50.50,196.81 L51.00,196.81 L51.50,196.81 L52.00,196.81 L52.50,196.80 L53.00,196.80 L53.50,196.80 L54.00,196.79 L54.50,196.79 L55.00,196.78 L55.50,196.78 L56.00,196.77 L56.50,196.76 L57.00,196.76 L57.50,196.74 L58.00,196.73 L58.50,196.72 L59.00,196.70 L59.50,196.68 L60.00,196.66 L60.50,196.63 L61.00,196.60 L61.50,196.57 L62.00,196.52 L62.50,196.48 L63.00,196.42 L63.50,196.36 L64.00,196.29 L64.50,196.20 L65.00,196.11 L65.50,196.00 L66.00,195.88 L66.50,195.75 L67.00,195.59 L67.50,195.41 L68.00,195.22 L68.50,195.00 L69.00,194.75 L69.50,194.47 L70.00,194.16 L70.50,193.82 L71.00,193.44 L71.50,193.02 L72.00,192.56 L72.50,192.05 L73.00,191.49 L73.50,190.88 L74.00,190.21 L74.50,189.49 L75.00,188.70 L75.50,187.85 L76.00,186.93 L76.50,185.94 L77.00,184.88 L77.50,183.74 L78.00,182.53 L78.50,181.24 L79.00,179.87 L79.50,178.42 L80.00,176.90 L80.50,175.29 L81.00,173.60 L81.50,171.84 L82.00,170.01 L82.50,168.11 L83.00,166.14 L83.50,164.11 L84.00,162.02 L84.50,159.88 L85.00,157.70 L85.50,155.48 L86.00,153.23 L86.50,150.97 L87.00,148.69 L87.50,146.42 L88.00,144.15 L88.50,141.91 L89.00,139.70 L89.50,137.54 L90.00,135.43 L90.50,133.38 L91.00,131.42 L91.50,129.54 L92.00,127.76 L92.50,126.10 L93.00,124.55 L93.50,123.14 L94.00,121.86 L94.50,120.72 L95.00,119.74 L95.50,118.92 L96.00,118.25 L96.50,117.75 L97.00,117.41 L97.50,117.24 L98.00,117.23 L98.50,117.39 L99.00,117.72 L99.50,118.20 L100.00,118.83 L100.50,119.60 L101.00,120.51 L101.50,121.54 L102.00,122.67 L102.50,123.91 L103.00,125.23 L103.50,126.62 L104.00,128.06 L104.50,129.55 L105.00,131.06 L105.50,132.58 L106.00,134.11 L106.50,135.61 L107.00,137.09 L107.50,138.53 L108.00,139.91 L108.50,141.24 L109.00,142.49 L109.50,143.66 L110.00,144.74 L110.50,145.73 L111.00,146.62 L111.50,147.41 L112.00,148.09 L112.50,148.67 L113.00,149.15 L113.50,149.51 L114.00,149.78 L114.50,149.93 L115.00,149.99 L115.50,149.95 L116.00,149.82 L116.50,149.59 L117.00,149.29 L117.50,148.90 L118.00,148.45 L118.50,147.92 L119.00,147.34 L119.50,146.72 L120.00,146.05 L120.50,145.36 L121.00,144.65 L121.50,143.93 L122.00,143.23 L122.50,142.54 L123.00,141.90 L123.50,141.30 L124.00,140.77 L124.50,140.32 L125.00,139.97 L125.50,139.71 L126.00,139.57 L126.50,139.56 L127.00,139.67 L127.50,139.91 L128.00,140.28 L128.50,140.79 L129.00,141.41 L129.50,142.16 L130.00,143.02 L130.50,143.97 L131.00,145.02 L131.50,146.14 L132.00,147.32 L132.50,148.56 L133.00,149.84 L133.50,151.15 L134.00,152.47 L134.50,153.80 L135.00,155.13 L135.50,156.44 L136.00,157.74 L136.50,159.00 L137.00,160.23 L137.50,161.42 L138.00,162.56 L138.50,163.65 L139.00,164.70 L139.50,165.69 L140.00,166.62 L140.50,167.51 L141.00,168.34 L141.50,169.12 L142.00,169.85 L142.50,170.53 L143.00,171.18 L143.50,171.78 L144.00,172.35 L144.50,172.89 L145.00,173.40 L145.50,173.89 L146.00,174.36 L146.50,174.81 L147.00,175.25 L147.50,175.67 L148.00,176.09 L148.50,176.49 L149.00,176.88 L149.50,177.27 L150.00,177.65 L150.50,178.02 L151.00,178.37 L151.50,178.70 L152.00,179.02 L152.50,179.33 L153.00,179.62 L153.50,179.90 L154.00,180.16 L154.50,180.41 L155.00,180.66 L155.50,180.90 L156.00,181.13 L156.50,181.36 L157.00,181.58 L157.50,181.80 L158.00,182.02 L158.50,182.24 L159.00,182.46 L159.50,182.68 L160.00,182.90 L160.50,183.13 L161.00,183.36 L161.50,183.59 L162.00,183.82 L162.50,184.05 L163.00,184.29 L163.50,184.53 L164.00,184.77 L164.50,185.01 L165.00,185.26 L165.50,185.50 L166.00,185.75 L166.50,185.99 L167.00,186.24 L167.50,186.49 L168.00,186.73 L168.50,186.98 L169.00,187.23 L169.50,187.47 L170.00,187.71 L170.50,187.95 L171.00,188.19 L171.50,188.43 L172.00,188.66 L172.50,188.89 L173.00,189.12 L173.50,189.34 L174.00,189.57 L174.50,189.78 L175.00,190.00 L175.50,190.21 L176.00,190.42 L176.50,190.62 L177.00,190.82 L177.50,191.02 L178.00,191.21 L178.50,191.39 L179.00,191.58 L179.50,191.76 L180.00,191.93 L180.50,192.10 L181.00,192.27 L181.50,192.43 L182.00,192.59 L182.50,192.74 L183.00,192.89 L183.50,193.03 L184.00,193.17 L184.50,193.31 L185.00,193.44 L185.50,193.57 L186.00,193.69 L186.50,193.81 L187.00,193.93 L187.50,194.04 L188.00,194.15 L188.50,194.25 L189.00,194.35 L189.50,194.45 L190.00,194.55 L190.50,194.64 L191.00,194.72 L191.50,194.81 L192.00,194.89 L192.50,194.97 L193.00,195.04 L193.50,195.12 L194.00,195.19 L194.50,195.25 L195.00,195.32 L195.50,195.38 L196.00,195.44 L196.50,195.49 L197.00,195.55 L197.50,195.60 L198.00,195.65 L198.50,195.70 L199.00,195.75 L199.50,195.79 L200.00,195.83 L200.50,195.87 L201.00,195.91 L201.50,195.95 L202.00,195.98 L202.50,196.02 L203.00,196.05 L203.50,196.08 L204.00,196.11 L204.50,196.14 L205.00,196.16 L205.50,196.19 L206.00,196.21 L206.50,196.24 L207.00,196.26 L207.50,196.28 L208.00,196.30 L208.50,196.32 L209.00,196.34 L209.50,196.36 L210.00,196.37 L210.50,196.39 L211.00,196.40 L211.50,196.42 L212.00,196.43 L212.50,196.44 L213.00,196.46 L213.50,196.47 L214.00,196.48 L214.50,196.49 L215.00,196.50 L215.50,196.51 L216.00,196.52 L216.50,196.53 L217.00,196.54 L217.50,196.55 L218.00,196.55 L218.50,196.56 L219.00,196.57 L219.50,196.57 L220.00,196.58 L220.50,196.59 L221.00,196.59 L221.50,196.60 L222.00,196.61 L222.50,196.61 L223.00,196.62 L223.50,196.62 L224.00,196.63 L224.50,196.63 L225.00,196.63 L225.50,196.64 L226.00,196.64 L226.50,196.65" stroke="#007a00" stroke-width="2.5" fill="none"/>
<path d="M64.00,196.90 L64.50,196.90 L65.00,196.90 L65.50,196.90 L66.00,196.90 L66.50,196.90 L67.00,196.90 L67.50,196.90 L68.00,196.90 L68.50,196.90 L69.00,196.90 L69.50,196.90 L70.00,196.90 L70.50,196.90 L71.00,196.90 L71.50,196.90 L72.00,196.90 L72.50,196.90 L73.00,196.90 L73.50,196.90 L74.00,196.90 L74.50,196.90 L75.00,196.90 L75.50,196.90 L76.00,196.90 L76.50,196.90 L77.00,196.90 L77.50,196.90 L78.00,196.90 L78.50,196.90 L79.00,196.90 L79.50,196.90 L80.00,196.90 L80.50,196.90 L81.00,196.90 L81.50,196.90 L82.00,196.90 L82.50,196.90 L83.00,196.90 L83.50,196.90 L84.00,196.90 L84.50,196.90 L85.00,196.90 L85.50,196.90 L86.00,196.90 L86.50,196.90 L87.00,196.90 L87.50,196.90 L88.00,196.90 L88.50,196.90 L89.00,196.90 L89.50,196.90 L90.00,196.90 L90.50,196.90 L91.00,196.90 L91.50,196.90 L92.00,196.90 L92.50,196.90 L93.00,196.90 L93.50,196.90 L94.00,196.90 L94.50,196.90 L95.00,196.90 L95.50,196.90 L96.00,196.90 L96.50,196.90 L97.00,196.90 L97.50,196.90 L98.00,196.90 L98.50,196.90 L99.00,196.90 L99.50,196.90 L100.00,196.90 L100.50,196.90 L101.00,196.90 L101.50,196.90 L102.00,196.90 L102.50,196.90 L103.00,196.90 L103.50,196.90 L104.00,196.90 L104.50,196.90 L105.00,196.90 L105.50,196.90 L106.00,196.90 L106.50,196.90 L107.00,196.90 L107.50,196.90 L108.00,196.90 L108.50,196.90 L109.00,196.90 L109.50,196.90 L110.00,196.90 L110.50,196.90 L111.00,196.90 L111.50,196.90 L112.00,196.90 L112.50,196.90 L113.00,196.90 L113.50,196.90 L114.00,196.90 L114.50,196.90 L115.00,196.90 L115.50,196.90 L116.00,196.90 L116.50,196.90 L117.00,196.90 L117.50,196.90 L118.00,196.90 L118.50,196.90 L119.00,196.90 L119.50,196.90 L120.00,196.90 L120.50,196.90 L121.00,196.90 L121.50,196.90 L122.00,196.90 L122.50,196.90 L123.00,196.90 L123.50,196.90 L124.00,196.90 L124.50,196.90 L125.00,196.90 L125.50,196.90 L126.00,196.90 L126.50,196.90 L127.00,196.90 L127.50,196.90 L128.00,196.90 L128.50,196.90 L129.00,196.90 L129.50,196.90 L130.00,196.90 L130.50,196.90 L131.00,196.90 L131.50,196.90 L132.00,196.90 L132.50,196.90 L133.00,196.90 L133.50,196.90 L134.00,196.90 L134.50,196.90 L135.00,196.90 L135.50,196.90 L136.00,196.90 L136.50,196.90 L137.00,196.90 L137.50,196.90 L138.00,196.90 L138.50,196.90 L139.00,196.90 L139.50,196.90 L140.00,196.90 L140.50,196.90 L141.00,196.90 L141.50,196.90 L142.00,196.90 L142.50,196.90 L143.00,196.90 L143.50,196.90 L144.00,196.90 L144.50,196.90 L145.00,196.90 L145.50,196.90 L146.00,196.90 L146.50,196.90 L147.00,196.90 L147.50,196.90 L148.00,196.90 L148.50,196.90 L149.00,196.90 L149.50,196.90 L150.00,196.90 L150.50,196.90 L151.00,196.90 L151.50,196.90 L152.00,196.90 L152.50,196.90 L153.00,196.90 L153.50,196.90 L154.00,196.90 L154.50,196.90 L155.00,196.90 L155.50,196.90 L156.00,196.90 L156.50,196.90 L157.00,196.90 L157.50,196.90 L158.00,196.90 L158.50,196.90 L159.00,196.90 L159.50,196.90 L160.00,196.90 L160.50,196.90 L161.00,196.90 L161.50,196.90 L162.00,196.90 L162.50,196.90 L163.00,196.90 L163.50,196.90 L164.00,196.90 L164.50,196.90 L165.00,196.90 L165.50,196.90 L166.00,196.90 L166.50,196.90 L167.00,196.90 L167.50,196.90 L168.00,196.90 L168.50,196.90 L169.00,196.90 L169.50,196.90 L170.00,196.90 L170.50,196.90 L171.00,196.90 L171.50,196.90 L172.00,196.90 L172.50,196.90 L173.00,196.90 L173.50,196.90 L174.00,196.90 L174.50,196.90 L175.00,196.90 L175.50,196.90 L176.00,196.90 L176.50,196.90 L177.00,196.90 L177.50,196.90 L178.00,196.90 L178.50,196.90 L179.00,196.90 L179.50,196.90 L180.00,196.90 L180.50,196.90 L181.00,196.90 L181.50,196.90 L182.00,196.90 L182.50,196.90 L183.00,196.90 L183.50,196.90 L184.00,196.90 L184.50,196.90 L185.00,196.90 L185.50,196.90 L186.00,196.90 L186.50,196.90 L187.00,196.90 L187.50,196.90 L188.00,196.90 L188.50,196.90 L189.00,196.90 L189.50,196.90 L190.00,196.90 L190.50,196.90 L191.00,196.90 L191.50,196.90 L192.00,196.90 L192.50,196.90 L193.00,196.90 L193.50,196.90 L194.00,196.90 L194.50,196.90 L195.00,196.90 L195.50,196.90 L196.00,196.90 L196.50,196.90 L197.00,196.90 L197.50,196.90 L198.00,196.90 L198.50,196.90 L199.00,196.90 L199.50,196.90 L200.00,196.90" stroke="#ff00ff" stroke-width="2.3" fill="none"/>
<path d="M100.00,196.58 L100.50,196.58 L101.00,196.57 L101.50,196.56 L102.00,196.56 L102.50,196.55 L103.00,196.54 L103.50,196.53 L104.00,196.52 L104.50,196.51 L105.00,196.50 L105.50,196.49 L106.00,196.48 L106.50,196.47 L107.00,196.45 L107.50,196.44 L108.00,196.43 L108.50,196.41 L109.00,196.39 L109.50,196.38 L110.00,196.36 L110.50,196.34 L111.00,196.31 L111.50,196.29 L112.00,196.27 L112.50,196.24 L113.00,196.21 L113.50,196.18 L114.00,196.14 L114.50,196.11 L115.00,196.07 L115.50,196.02 L116.00,195.98 L116.50,195.93 L117.00,195.87 L117.50,195.82 L118.00,195.76 L118.50,195.69 L119.00,195.62 L119.50,195.54 L120.00,195.46 L120.50,195.37 L121.00,195.28 L121.50,195.18 L122.00,195.08 L122.50,194.97 L123.00,194.85 L123.50,194.72 L124.00,194.59 L124.50,194.44 L125.00,194.29 L125.50,194.14 L126.00,193.97 L126.50,193.79 L127.00,193.61 L127.50,193.41 L128.00,193.21 L128.50,193.00 L129.00,192.78 L129.50,192.55 L130.00,192.31 L130.50,192.06 L131.00,191.80 L131.50,191.53 L132.00,191.25 L132.50,190.97 L133.00,190.68 L133.50,190.38 L134.00,190.07 L134.50,189.75 L135.00,189.43 L135.50,189.10 L136.00,188.77 L136.50,188.43 L137.00,188.09 L137.50,187.75 L138.00,187.41 L138.50,187.06 L139.00,186.71 L139.50,186.37 L140.00,186.03 L140.50,185.69 L141.00,185.36 L141.50,185.03 L142.00,184.71 L142.50,184.40 L143.00,184.09 L143.50,183.80 L144.00,183.53 L144.50,183.27 L145.00,183.02 L145.50,182.79 L146.00,182.58 L146.50,182.39 L147.00,182.22 L147.50,182.07 L148.00,181.95 L148.50,181.85 L149.00,181.77 L149.50,181.73 L150.00,181.70 L150.50,181.70 L151.00,181.72 L151.50,181.75 L152.00,181.79 L152.50,181.85 L153.00,181.93 L153.50,182.01 L154.00,182.11 L154.50,182.23 L155.00,182.35 L155.50,182.49 L156.00,182.64 L156.50,182.80 L157.00,182.97 L157.50,183.15 L158.00,183.34 L158.50,183.54 L159.00,183.75 L159.50,183.96 L160.00,184.18 L160.50,184.41 L161.00,184.64 L161.50,184.88 L162.00,185.13 L162.50,185.37 L163.00,185.62 L163.50,185.87 L164.00,186.13 L164.50,186.39 L165.00,186.65 L165.50,186.90 L166.00,187.16 L166.50,187.42 L167.00,187.68 L167.50,187.94 L168.00,188.20 L168.50,188.45 L169.00,188.70 L169.50,188.95 L170.00,189.20 L170.50,189.45 L171.00,189.69 L171.50,189.93 L172.00,190.16 L172.50,190.39 L173.00,190.62 L173.50,190.84 L174.00,191.06 L174.50,191.27 L175.00,191.48 L175.50,191.68 L176.00,191.88 L176.50,192.07 L177.00,192.26 L177.50,192.44 L178.00,192.62 L178.50,192.79 L179.00,192.96 L179.50,193.12 L180.00,193.27 L180.50,193.42 L181.00,193.57 L181.50,193.71 L182.00,193.85 L182.50,193.98 L183.00,194.10 L183.50,194.22 L184.00,194.34 L184.50,194.45 L185.00,194.56 L185.50,194.66 L186.00,194.76 L186.50,194.85 L187.00,194.94 L187.50,195.03 L188.00,195.11 L188.50,195.19 L189.00,195.26 L189.50,195.33 L190.00,195.40 L190.50,195.47 L191.00,195.53 L191.50,195.58 L192.00,195.64 L192.50,195.69 L193.00,195.74 L193.50,195.79 L194.00,195.83 L194.50,195.88 L195.00,195.92 L195.50,195.95 L196.00,195.99 L196.50,196.02 L197.00,196.06 L197.50,196.09 L198.00,196.12 L198.50,196.14 L199.00,196.17 L199.50,196.19 L200.00,196.22 L200.50,196.24 L201.00,196.26 L201.50,196.28 L202.00,196.30 L202.50,196.32 L203.00,196.33 L203.50,196.35 L204.00,196.36 L204.50,196.38 L205.00,196.39 L205.50,196.40 L206.00,196.42 L206.50,196.43 L207.00,196.44 L207.50,196.45 L208.00,196.46 L208.50,196.47 L209.00,196.48 L209.50,196.49 L210.00,196.49 L210.50,196.50 L211.00,196.51 L211.50,196.52 L212.00,196.52 L212.50,196.53 L213.00,196.54 L213.50,196.54 L214.00,196.55 L214.50,196.56 L215.00,196.56 L215.50,196.57 L216.00,196.57 L216.50,196.58 L217.00,196.58 L217.50,196.59 L218.00,196.59 L218.50,196.60 L219.00,196.60 L219.50,196.61 L220.00,196.61 L220.50,196.61 L221.00,196.62 L221.50,196.62 L222.00,196.62" stroke="#0000ff" stroke-width="2.3" fill="none"/><path d="M63.00,301.67 L63.50,301.64 L64.00,301.61 L64.50,301.57 L65.00,301.53 L65.50,301.48 L66.00,301.41 L66.50,301.34 L67.00,301.26 L67.50,301.17 L68.00,301.06 L68.50,300.93 L69.00,300.78 L69.50,300.62 L70.00,300.43 L70.50,300.21 L71.00,299.96 L71.50,299.68 L72.00,299.37 L72.50,299.01 L73.00,298.61 L73.50,298.17 L74.00,297.67 L74.50,297.12 L75.00,296.51 L75.50,295.83 L76.00,295.08 L76.50,294.27 L77.00,293.37 L77.50,292.40 L78.00,291.33 L78.50,290.18 L79.00,288.94 L79.50,287.60 L80.00,286.17 L80.50,284.64 L81.00,283.00 L81.50,281.27 L82.00,279.43 L82.50,277.50 L83.00,275.47 L83.50,273.34 L84.00,271.13 L84.50,268.83 L85.00,266.45 L85.50,264.00 L86.00,261.50 L86.50,258.93 L87.00,256.33 L87.50,253.70 L88.00,251.05 L88.50,248.40 L89.00,245.76 L89.50,243.14 L90.00,240.57 L90.50,238.05 L91.00,235.61 L91.50,233.26 L92.00,231.01 L92.50,228.88 L93.00,226.89 L93.50,225.05 L94.00,223.38 L94.50,221.88 L95.00,220.57 L95.50,219.46 L96.00,218.55 L96.50,217.86 L97.00,217.39 L97.50,217.14 L98.00,217.12 L98.50,217.32 L99.00,217.76 L99.50,218.42 L100.00,219.30 L100.50,220.39 L101.00,221.68 L101.50,223.17 L102.00,224.83 L102.50,226.67 L103.00,228.66 L103.50,230.80 L104.00,233.05 L104.50,235.42 L105.00,237.88 L105.50,240.41 L106.00,243.00 L106.50,245.64 L107.00,248.30 L107.50,250.98 L108.00,253.65 L108.50,256.30 L109.00,258.93 L109.50,261.51 L110.00,264.04 L110.50,266.51 L111.00,268.91 L111.50,271.22 L112.00,273.45 L112.50,275.59 L113.00,277.63 L113.50,279.58 L114.00,281.42 L114.50,283.16 L115.00,284.80 L115.50,286.34 L116.00,287.77 L116.50,289.11 L117.00,290.35 L117.50,291.50 L118.00,292.55 L118.50,293.53 L119.00,294.42 L119.50,295.23 L120.00,295.97 L120.50,296.63 L121.00,297.24 L121.50,297.78 L122.00,298.27 L122.50,298.71 L123.00,299.10 L123.50,299.45 L124.00,299.76 L124.50,300.03 L125.00,300.27 L125.50,300.48 L126.00,300.67 L126.50,300.83 L127.00,300.97 L127.50,301.09 L128.00,301.20 L128.50,301.29 L129.00,301.37 L129.50,301.44 L130.00,301.50 L130.50,301.54 L131.00,301.59 L131.50,301.62 L132.00,301.65 L132.50,301.68 L133.00,301.70 L133.50,301.72 L134.00,301.73 L134.50,301.74 L135.00,301.75 L135.50,301.76 L136.00,301.77 L136.50,301.78 L137.00,301.78 L137.50,301.78 L138.00,301.79 L138.50,301.79 L139.00,301.79 L139.50,301.79 L140.00,301.79 L140.50,301.80 L141.00,301.80 L141.50,301.80 L142.00,301.80 L142.50,301.80 L143.00,301.80 L143.50,301.80 L144.00,301.80 L144.50,301.80 L145.00,301.80 L145.50,301.80 L146.00,301.80 L146.50,301.80 L147.00,301.80 L147.50,301.80 L148.00,301.80 L148.50,301.80 L149.00,301.80 L149.50,301.80 L150.00,301.80 L150.50,301.80 L151.00,301.80 L151.50,301.80 L152.00,301.80 L152.50,301.80 L153.00,301.80 L153.50,301.80 L154.00,301.80 L154.50,301.80 L155.00,301.80 L155.50,301.80 L156.00,301.80 L156.50,301.80 L157.00,301.80 L157.50,301.80 L158.00,301.80 L158.50,301.80 L159.00,301.80 L159.50,301.80 L160.00,301.80" stroke="#000000" stroke-width="2.3" fill="none"/>
<path d="M90.00,301.80 L90.50,301.80 L91.00,301.80 L91.50,301.80 L92.00,301.80 L92.50,301.80 L93.00,301.80 L93.50,301.80 L94.00,301.79 L94.50,301.79 L95.00,301.79 L95.50,301.79 L96.00,301.78 L96.50,301.78 L97.00,301.77 L97.50,301.76 L98.00,301.75 L98.50,301.74 L99.00,301.72 L99.50,301.70 L100.00,301.68 L100.50,301.65 L101.00,301.61 L101.50,301.56 L102.00,301.51 L102.50,301.44 L103.00,301.36 L103.50,301.27 L104.00,301.16 L104.50,301.02 L105.00,300.87 L105.50,300.68 L106.00,300.47 L106.50,300.23 L107.00,299.94 L107.50,299.62 L108.00,299.25 L108.50,298.83 L109.00,298.36 L109.50,297.84 L110.00,297.25 L110.50,296.60 L111.00,295.88 L111.50,295.09 L112.00,294.23 L112.50,293.30 L113.00,292.30 L113.50,291.23 L114.00,290.09 L114.50,288.88 L115.00,287.61 L115.50,286.29 L116.00,284.92 L116.50,283.52 L117.00,282.08 L117.50,280.62 L118.00,279.16 L118.50,277.71 L119.00,276.28 L119.50,274.88 L120.00,273.54 L120.50,272.26 L121.00,271.06 L121.50,269.95 L122.00,268.95 L122.50,268.07 L123.00,267.33 L123.50,266.72 L124.00,266.26 L124.50,265.96 L125.00,265.81 L125.50,265.83 L126.00,265.99 L126.50,266.29 L127.00,266.74 L127.50,267.33 L128.00,268.04 L128.50,268.87 L129.00,269.82 L129.50,270.86 L130.00,271.99 L130.50,273.20 L131.00,274.47 L131.50,275.79 L132.00,277.15 L132.50,278.53 L133.00,279.93 L133.50,281.32 L134.00,282.71 L134.50,284.07 L135.00,285.40 L135.50,286.70 L136.00,287.95 L136.50,289.15 L137.00,290.29 L137.50,291.37 L138.00,292.39 L138.50,293.34 L139.00,294.23 L139.50,295.05 L140.00,295.81 L140.50,296.51 L141.00,297.14 L141.50,297.71 L142.00,298.23 L142.50,298.70 L143.00,299.11 L143.50,299.48 L144.00,299.81 L144.50,300.10 L145.00,300.35 L145.50,300.57 L146.00,300.76 L146.50,300.92 L147.00,301.07 L147.50,301.19 L148.00,301.29 L148.50,301.38 L149.00,301.45 L149.50,301.51 L150.00,301.57 L150.50,301.61 L151.00,301.65 L151.50,301.68 L152.00,301.70 L152.50,301.72 L153.00,301.74 L153.50,301.75 L154.00,301.76 L154.50,301.77 L155.00,301.78 L155.50,301.78 L156.00,301.78 L156.50,301.79 L157.00,301.79 L157.50,301.79 L158.00,301.79 L158.50,301.80 L159.00,301.80 L159.50,301.80 L160.00,301.80 L160.50,301.80 L161.00,301.80 L161.50,301.80 L162.00,301.80 L162.50,301.80 L163.00,301.80 L163.50,301.80 L164.00,301.80 L164.50,301.80 L165.00,301.80 L165.50,301.80 L166.00,301.80 L166.50,301.80 L167.00,301.80 L167.50,301.80 L168.00,301.80 L168.50,301.80 L169.00,301.80 L169.50,301.80 L170.00,301.80 L170.50,301.80 L171.00,301.80 L171.50,301.80 L172.00,301.80 L172.50,301.80 L173.00,301.80 L173.50,301.80 L174.00,301.80 L174.50,301.80 L175.00,301.80 L175.50,301.80 L176.00,301.80 L176.50,301.80 L177.00,301.80 L177.50,301.80 L178.00,301.80 L178.50,301.80 L179.00,301.80 L179.50,301.80 L180.00,301.80 L180.50,301.80 L181.00,301.80 L181.50,301.80 L182.00,301.80 L182.50,301.80 L183.00,301.80 L183.50,301.80 L184.00,301.80 L184.50,301.80 L185.00,301.80 L185.50,301.80 L186.00,301.80 L186.50,301.80 L187.00,301.80 L187.50,301.80 L188.00,301.80 L188.50,301.80 L189.00,301.80 L189.50,301.80 L190.00,301.80 L190.50,301.80 L191.00,301.80 L191.50,301.80 L192.00,301.80 L192.50,301.80 L193.00,301.80" stroke="#ff0000" stroke-width="2.3" fill="none"/>
<path d="M63.50,301.80 L64.00,301.80 L64.50,301.80 L65.00,301.80 L65.50,301.80 L66.00,301.80 L66.50,301.80 L67.00,301.80 L67.50,301.80 L68.00,301.80 L68.50,301.80 L69.00,301.80 L69.50,301.80 L70.00,301.80 L70.50,301.80 L71.00,301.80 L71.50,301.80 L72.00,301.80 L72.50,301.80 L73.00,301.80 L73.50,301.80 L74.00,301.80 L74.50,301.80 L75.00,301.80 L75.50,301.80 L76.00,301.80 L76.50,301.80 L77.00,301.80 L77.50,301.80 L78.00,301.80 L78.50,301.80 L79.00,301.80 L79.50,301.80 L80.00,301.80 L80.50,301.80 L81.00,301.80 L81.50,301.80 L82.00,301.80 L82.50,301.80 L83.00,301.80 L83.50,301.80 L84.00,301.80 L84.50,301.80 L85.00,301.80 L85.50,301.80 L86.00,301.80 L86.50,301.80 L87.00,301.80 L87.50,301.80 L88.00,301.80 L88.50,301.80 L89.00,301.80 L89.50,301.80 L90.00,301.80 L90.50,301.80 L91.00,301.80 L91.50,301.79 L92.00,301.79 L92.50,301.79 L93.00,301.79 L93.50,301.79 L94.00,301.79 L94.50,301.79 L95.00,301.79 L95.50,301.78 L96.00,301.78 L96.50,301.78 L97.00,301.77 L97.50,301.77 L98.00,301.77 L98.50,301.76 L99.00,301.76 L99.50,301.75 L100.00,301.75 L100.50,301.74 L101.00,301.73 L101.50,301.72 L102.00,301.71 L102.50,301.70 L103.00,301.69 L103.50,301.68 L104.00,301.66 L104.50,301.65 L105.00,301.63 L105.50,301.61 L106.00,301.59 L106.50,301.57 L107.00,301.54 L107.50,301.51 L108.00,301.48 L108.50,301.45 L109.00,301.41 L109.50,301.37 L110.00,301.33 L110.50,301.28 L111.00,301.23 L111.50,301.18 L112.00,301.12 L112.50,301.06 L113.00,300.99 L113.50,300.91 L114.00,300.84 L114.50,300.75 L115.00,300.66 L115.50,300.57 L116.00,300.47 L116.50,300.36 L117.00,300.24 L117.50,300.12 L118.00,299.99 L118.50,299.86 L119.00,299.72 L119.50,299.56 L120.00,299.41 L120.50,299.24 L121.00,299.07 L121.50,298.89 L122.00,298.70 L122.50,298.50 L123.00,298.29 L123.50,298.08 L124.00,297.86 L124.50,297.63 L125.00,297.40 L125.50,297.16 L126.00,296.91 L126.50,296.65 L127.00,296.39 L127.50,296.13 L128.00,295.86 L128.50,295.58 L129.00,295.30 L129.50,295.02 L130.00,294.73 L130.50,294.44 L131.00,294.15 L131.50,293.86 L132.00,293.57 L132.50,293.28 L133.00,293.00 L133.50,292.71 L134.00,292.43 L134.50,292.16 L135.00,291.88 L135.50,291.62 L136.00,291.36 L136.50,291.11 L137.00,290.87 L137.50,290.64 L138.00,290.42 L138.50,290.21 L139.00,290.01 L139.50,289.82 L140.00,289.65 L140.50,289.49 L141.00,289.35 L141.50,289.22 L142.00,289.11 L142.50,289.02 L143.00,288.94 L143.50,288.88 L144.00,288.84 L144.50,288.81 L145.00,288.80 L145.50,288.81 L146.00,288.82 L146.50,288.85 L147.00,288.89 L147.50,288.94 L148.00,289.00 L148.50,289.07 L149.00,289.16 L149.50,289.25 L150.00,289.35 L150.50,289.46 L151.00,289.59 L151.50,289.72 L152.00,289.86 L152.50,290.01 L153.00,290.16 L153.50,290.33 L154.00,290.50 L154.50,290.68 L155.00,290.87 L155.50,291.06 L156.00,291.26 L156.50,291.46 L157.00,291.67 L157.50,291.88 L158.00,292.10 L158.50,292.32 L159.00,292.54 L159.50,292.77 L160.00,293.00 L160.50,293.23 L161.00,293.46 L161.50,293.69 L162.00,293.92 L162.50,294.15 L163.00,294.39 L163.50,294.62 L164.00,294.85 L164.50,295.07 L165.00,295.30 L165.50,295.52 L166.00,295.75 L166.50,295.96 L167.00,296.18 L167.50,296.39 L168.00,296.60 L168.50,296.81 L169.00,297.01 L169.50,297.21 L170.00,297.40 L170.50,297.59 L171.00,297.77 L171.50,297.95 L172.00,298.12 L172.50,298.29 L173.00,298.46 L173.50,298.62 L174.00,298.77 L174.50,298.92 L175.00,299.07 L175.50,299.21 L176.00,299.34 L176.50,299.47 L177.00,299.60 L177.50,299.72 L178.00,299.83 L178.50,299.94 L179.00,300.05 L179.50,300.15 L180.00,300.24 L180.50,300.34 L181.00,300.42 L181.50,300.51 L182.00,300.59 L182.50,300.66 L183.00,300.74 L183.50,300.80 L184.00,300.87 L184.50,300.93 L185.00,300.99 L185.50,301.04 L186.00,301.09 L186.50,301.14 L187.00,301.19 L187.50,301.23 L188.00,301.27 L188.50,301.31 L189.00,301.35 L189.50,301.38 L190.00,301.41 L190.50,301.44 L191.00,301.47 L191.50,301.49 L192.00,301.52 L192.50,301.54 L193.00,301.56 L193.50,301.58 L194.00,301.60 L194.50,301.61 L195.00,301.63 L195.50,301.64 L196.00,301.66 L196.50,301.67 L197.00,301.68 L197.50,301.69 L198.00,301.70 L198.50,301.71 L199.00,301.72 L199.50,301.72 L200.00,301.73" stroke="#0000ff" stroke-width="2.3" fill="none"/>
<path d="M23.30,301.80 L23.80,301.80 L24.30,301.80 L24.80,301.80 L25.30,301.80 L25.80,301.80 L26.30,301.80 L26.80,301.80 L27.30,301.80 L27.80,301.80 L28.30,301.80 L28.80,301.80 L29.30,301.80 L29.80,301.80 L30.30,301.80 L30.80,301.80 L31.30,301.80 L31.80,301.80 L32.30,301.80 L32.80,301.80 L33.30,301.80 L33.80,301.80 L34.30,301.80 L34.80,301.80 L35.30,301.80 L35.80,301.80 L36.30,301.80 L36.80,301.80 L37.30,301.80 L37.80,301.80 L38.30,301.80 L38.80,301.80 L39.30,301.80 L39.80,301.80 L40.30,301.80 L40.80,301.80 L41.30,301.80 L41.80,301.80 L42.30,301.80 L42.80,301.80 L43.30,301.80 L43.80,301.80 L44.30,301.80 L44.80,301.80 L45.30,301.80 L45.80,301.80 L46.30,301.80 L46.80,301.80 L47.30,301.80 L47.80,301.80 L48.30,301.80 L48.80,301.80 L49.30,301.80 L49.80,301.80 L50.30,301.80 L50.80,301.80 L51.30,301.80 L51.80,301.80 L52.30,301.80 L52.80,301.80 L53.30,301.80 L53.80,301.80 L54.30,301.80 L54.80,301.80 L55.30,301.79 L55.80,301.79 L56.30,301.79 L56.80,301.79 L57.30,301.79 L57.80,301.78 L58.30,301.78 L58.80,301.77 L59.30,301.77 L59.80,301.76 L60.30,301.75 L60.80,301.74 L61.30,301.73 L61.80,301.72 L62.30,301.70 L62.80,301.68 L63.30,301.65 L63.80,301.62 L64.30,301.59 L64.80,301.55 L65.30,301.50 L65.80,301.44 L66.30,301.37 L66.80,301.30 L67.30,301.21 L67.80,301.10 L68.30,300.98 L68.80,300.85 L69.30,300.69 L69.80,300.51 L70.30,300.30 L70.80,300.07 L71.30,299.80 L71.80,299.50 L72.30,299.16 L72.80,298.78 L73.30,298.35 L73.80,297.88 L74.30,297.35 L74.80,296.76 L75.30,296.11 L75.80,295.39 L76.30,294.60 L76.80,293.74 L77.30,292.80 L77.80,291.77 L78.30,290.65 L78.80,289.45 L79.30,288.15 L79.80,286.75 L80.30,285.26 L80.80,283.67 L81.30,281.97 L81.80,280.18 L82.30,278.28 L82.80,276.29 L83.30,274.20 L83.80,272.02 L84.30,269.76 L84.80,267.41 L85.30,264.99 L85.80,262.50 L86.30,259.96 L86.80,257.38 L87.30,254.75 L87.80,252.11 L88.30,249.46 L88.80,246.81 L89.30,244.18 L89.80,241.59 L90.30,239.05 L90.80,236.57 L91.30,234.18 L91.80,231.88 L92.30,229.70 L92.80,227.65 L93.30,225.74 L93.80,223.98 L94.30,222.40 L94.80,221.00 L95.30,219.78 L95.80,218.77 L96.30,217.96 L96.80,217.36 L97.30,216.98 L97.80,216.81 L98.30,216.85 L98.80,217.11 L99.30,217.57 L99.80,218.24 L100.30,219.09 L100.80,220.13 L101.30,221.34 L101.80,222.70 L102.30,224.20 L102.80,225.81 L103.30,227.54 L103.80,229.34 L104.30,231.21 L104.80,233.13 L105.30,235.08 L105.80,237.04 L106.30,238.99 L106.80,240.92 L107.30,242.81 L107.80,244.65 L108.30,246.43 L108.80,248.13 L109.30,249.74 L109.80,251.26 L110.30,252.68 L110.80,254.00 L111.30,255.20 L111.80,256.29 L112.30,257.27 L112.80,258.13 L113.30,258.88 L113.80,259.52 L114.30,260.05 L114.80,260.47 L115.30,260.78 L115.80,261.00 L116.30,261.12 L116.80,261.16 L117.30,261.11 L117.80,261.00 L118.30,260.82 L118.80,260.60 L119.30,260.33 L119.80,260.03 L120.30,259.71 L120.80,259.39 L121.30,259.08 L121.80,258.79 L122.30,258.54 L122.80,258.33 L123.30,258.18 L123.80,258.10 L124.30,258.11 L124.80,258.20 L125.30,258.38 L125.80,258.66 L126.30,259.02 L126.80,259.48 L127.30,260.02 L127.80,260.66 L128.30,261.37 L128.80,262.17 L129.30,263.04 L129.80,263.98 L130.30,264.98 L130.80,266.03 L131.30,267.11 L131.80,268.23 L132.30,269.36 L132.80,270.51 L133.30,271.65 L133.80,272.79 L134.30,273.91 L134.80,275.00 L135.30,276.05 L135.80,277.07 L136.30,278.05 L136.80,278.98 L137.30,279.85 L137.80,280.68 L138.30,281.44 L138.80,282.16 L139.30,282.82 L139.80,283.43 L140.30,283.99 L140.80,284.50 L141.30,284.96 L141.80,285.38 L142.30,285.77 L142.80,286.12 L143.30,286.44 L143.80,286.73 L144.30,287.00 L144.80,287.25 L145.30,287.49 L145.80,287.70 L146.30,287.90 L146.80,288.08 L147.30,288.26 L147.80,288.43 L148.30,288.59 L148.80,288.74 L149.30,288.90 L149.80,289.06 L150.30,289.21 L150.80,289.37 L151.30,289.53 L151.80,289.69 L152.30,289.86 L152.80,290.03 L153.30,290.21 L153.80,290.39 L154.30,290.57 L154.80,290.77 L155.30,290.96 L155.80,291.16 L156.30,291.37 L156.80,291.58 L157.30,291.79 L157.80,292.01 L158.30,292.23 L158.80,292.45 L159.30,292.68 L159.80,292.90 L160.30,293.13 L160.80,293.36 L161.30,293.60 L161.80,293.83 L162.30,294.06 L162.80,294.29 L163.30,294.52 L163.80,294.75 L164.30,294.98 L164.80,295.21 L165.30,295.43 L165.80,295.66 L166.30,295.88 L166.80,296.09 L167.30,296.31 L167.80,296.52 L168.30,296.73 L168.80,296.93 L169.30,297.13 L169.80,297.32 L170.30,297.51 L170.80,297.70 L171.30,297.88 L171.80,298.06 L172.30,298.23 L172.80,298.39 L173.30,298.56 L173.80,298.71 L174.30,298.86 L174.80,299.01 L175.30,299.15 L175.80,299.29 L176.30,299.42 L176.80,299.55 L177.30,299.67 L177.80,299.78 L178.30,299.90 L178.80,300.00 L179.30,300.11 L179.80,300.21 L180.30,300.30 L180.80,300.39 L181.30,300.47 L181.80,300.56 L182.30,300.63 L182.80,300.71 L183.30,300.78 L183.80,300.84 L184.30,300.91 L184.80,300.96 L185.30,301.02 L185.80,301.07 L186.30,301.12 L186.80,301.17 L187.30,301.21 L187.80,301.26 L188.30,301.30 L188.80,301.33 L189.30,301.37 L189.80,301.40 L190.30,301.43 L190.80,301.46 L191.30,301.48 L191.80,301.51 L192.30,301.53 L192.80,301.55 L193.30,301.57 L193.80,301.59 L194.30,301.61 L194.80,301.62 L195.30,301.64 L195.80,301.65 L196.30,301.66 L196.80,301.68 L197.30,301.69 L197.80,301.70 L198.30,301.71 L198.80,301.71 L199.30,301.72 L199.80,301.73 L200.30,301.74 L200.80,301.74 L201.30,301.75 L201.80,301.75 L202.30,301.76 L202.80,301.76 L203.30,301.76 L203.80,301.77 L204.30,301.77 L204.80,301.77 L205.30,301.78 L205.80,301.78 L206.30,301.78 L206.80,301.78 L207.30,301.78 L207.80,301.79 L208.30,301.79 L208.80,301.79 L209.30,301.79 L209.80,301.79 L210.30,301.79 L210.80,301.79 L211.30,301.79 L211.80,301.79 L212.30,301.79 L212.80,301.80 L213.30,301.80 L213.80,301.80 L214.30,301.80 L214.80,301.80 L215.30,301.80 L215.80,301.80 L216.30,301.80 L216.80,301.80 L217.30,301.80 L217.80,301.80 L218.30,301.80 L218.80,301.80 L219.30,301.80 L219.80,301.80 L220.30,301.80 L220.80,301.80 L221.30,301.80 L221.80,301.80 L222.30,301.80 L222.80,301.80 L223.30,301.80 L223.80,301.80 L224.30,301.80 L224.80,301.80 L225.30,301.80 L225.80,301.80 L226.30,301.80 L226.80,301.80 L227.30,301.80 L227.80,301.80 L228.30,301.80 L228.80,301.80 L229.30,301.80 L229.80,301.80 L230.30,301.80 L230.80,301.80 L231.30,301.80 L231.80,301.80 L232.30,301.80 L232.80,301.80 L233.30,301.80" stroke="#007a00" stroke-width="2.5" fill="none"/>
<path d="M63.50,301.80 L64.00,301.80 L64.50,301.80 L65.00,301.80 L65.50,301.80 L66.00,301.80 L66.50,301.80 L67.00,301.80 L67.50,301.80 L68.00,301.80 L68.50,301.80 L69.00,301.80 L69.50,301.80 L70.00,301.80 L70.50,301.80 L71.00,301.80 L71.50,301.80 L72.00,301.80 L72.50,301.80 L73.00,301.80 L73.50,301.80 L74.00,301.80 L74.50,301.80 L75.00,301.80 L75.50,301.80 L76.00,301.80 L76.50,301.80 L77.00,301.80 L77.50,301.80 L78.00,301.80 L78.50,301.80 L79.00,301.80 L79.50,301.80 L80.00,301.80 L80.50,301.80 L81.00,301.80 L81.50,301.80 L82.00,301.80 L82.50,301.80 L83.00,301.80 L83.50,301.80 L84.00,301.80 L84.50,301.80 L85.00,301.80 L85.50,301.80 L86.00,301.80 L86.50,301.80 L87.00,301.80 L87.50,301.80 L88.00,301.80 L88.50,301.80 L89.00,301.80 L89.50,301.80 L90.00,301.80 L90.50,301.80 L91.00,301.80 L91.50,301.79 L92.00,301.79 L92.50,301.79 L93.00,301.79 L93.50,301.79 L94.00,301.79 L94.50,301.79 L95.00,301.79 L95.50,301.78 L96.00,301.78 L96.50,301.78 L97.00,301.77 L97.50,301.77 L98.00,301.77 L98.50,301.76 L99.00,301.76 L99.50,301.75 L100.00,301.75" stroke="#0000ff" stroke-width="2.3" fill="none"/><path d="M63.00,404.51 L63.50,404.48 L64.00,404.44 L64.50,404.40 L65.00,404.36 L65.50,404.31 L66.00,404.25 L66.50,404.18 L67.00,404.10 L67.50,404.01 L68.00,403.91 L68.50,403.79 L69.00,403.66 L69.50,403.50 L70.00,403.33 L70.50,403.13 L71.00,402.90 L71.50,402.64 L72.00,402.35 L72.50,402.02 L73.00,401.65 L73.50,401.23 L74.00,400.76 L74.50,400.24 L75.00,399.66 L75.50,399.02 L76.00,398.30 L76.50,397.52 L77.00,396.65 L77.50,395.70 L78.00,394.67 L78.50,393.54 L79.00,392.31 L79.50,390.98 L80.00,389.55 L80.50,388.02 L81.00,386.37 L81.50,384.62 L82.00,382.75 L82.50,380.78 L83.00,378.69 L83.50,376.50 L84.00,374.21 L84.50,371.83 L85.00,369.35 L85.50,366.78 L86.00,364.15 L86.50,361.45 L87.00,358.69 L87.50,355.90 L88.00,353.08 L88.50,350.24 L89.00,347.41 L89.50,344.60 L90.00,341.83 L90.50,339.11 L91.00,336.47 L91.50,333.92 L92.00,331.49 L92.50,329.18 L93.00,327.02 L93.50,325.03 L94.00,323.22 L94.50,321.61 L95.00,320.22 L95.50,319.05 L96.00,318.11 L96.50,317.42 L97.00,316.99 L97.50,316.81 L98.00,316.88 L98.50,317.19 L99.00,317.75 L99.50,318.54 L100.00,319.55 L100.50,320.78 L101.00,322.21 L101.50,323.84 L102.00,325.64 L102.50,327.60 L103.00,329.71 L103.50,331.95 L104.00,334.30 L104.50,336.74 L105.00,339.26 L105.50,341.85 L106.00,344.48 L106.50,347.14 L107.00,349.81 L107.50,352.48 L108.00,355.15 L108.50,357.78 L109.00,360.39 L109.50,362.94 L110.00,365.44 L110.50,367.87 L111.00,370.23 L111.50,372.50 L112.00,374.70 L112.50,376.80 L113.00,378.82 L113.50,380.73 L114.00,382.56 L114.50,384.28 L115.00,385.90 L115.50,387.43 L116.00,388.87 L116.50,390.20 L117.00,391.45 L117.50,392.61 L118.00,393.68 L118.50,394.68 L119.00,395.59 L119.50,396.43 L120.00,397.20 L120.50,397.90 L121.00,398.54 L121.50,399.12 L122.00,399.65 L122.50,400.13 L123.00,400.56 L123.50,400.95 L124.00,401.30 L124.50,401.62 L125.00,401.90 L125.50,402.15 L126.00,402.38 L126.50,402.58 L127.00,402.76 L127.50,402.92 L128.00,403.06 L128.50,403.19 L129.00,403.31 L129.50,403.41 L130.00,403.50 L130.50,403.58 L131.00,403.65 L131.50,403.72 L132.00,403.78 L132.50,403.83 L133.00,403.88 L133.50,403.92 L134.00,403.96 L134.50,404.00 L135.00,404.03 L135.50,404.07 L136.00,404.09 L136.50,404.12 L137.00,404.15 L137.50,404.17 L138.00,404.19 L138.50,404.21 L139.00,404.23 L139.50,404.25 L140.00,404.27 L140.50,404.29 L141.00,404.30 L141.50,404.32 L142.00,404.33 L142.50,404.35 L143.00,404.36 L143.50,404.37 L144.00,404.39 L144.50,404.40 L145.00,404.41 L145.50,404.42 L146.00,404.43 L146.50,404.45 L147.00,404.46 L147.50,404.47 L148.00,404.48 L148.50,404.49 L149.00,404.50 L149.50,404.50 L150.00,404.51 L150.50,404.52 L151.00,404.53 L151.50,404.54 L152.00,404.55 L152.50,404.56 L153.00,404.56 L153.50,404.57 L154.00,404.58 L154.50,404.58 L155.00,404.59 L155.50,404.60 L156.00,404.60 L156.50,404.61 L157.00,404.62 L157.50,404.62 L158.00,404.63 L158.50,404.64 L159.00,404.64 L159.50,404.65 L160.00,404.65" stroke="#000000" stroke-width="2.3" fill="none"/>
<path d="M100.00,405.00 L100.50,405.00 L101.00,405.00 L101.50,405.00 L102.00,405.00 L102.50,405.00 L103.00,405.00 L103.50,405.00 L104.00,404.99 L104.50,404.99 L105.00,404.99 L105.50,404.98 L106.00,404.98 L106.50,404.97 L107.00,404.96 L107.50,404.95 L108.00,404.93 L108.50,404.90 L109.00,404.88 L109.50,404.84 L110.00,404.79 L110.50,404.74 L111.00,404.67 L111.50,404.58 L112.00,404.48 L112.50,404.36 L113.00,404.22 L113.50,404.05 L114.00,403.86 L114.50,403.64 L115.00,403.39 L115.50,403.11 L116.00,402.80 L116.50,402.46 L117.00,402.10 L117.50,401.70 L118.00,401.29 L118.50,400.85 L119.00,400.40 L119.50,399.95 L120.00,399.49 L120.50,399.05 L121.00,398.62 L121.50,398.21 L122.00,397.84 L122.50,397.51 L123.00,397.23 L123.50,397.00 L124.00,396.84 L124.50,396.73 L125.00,396.70 L125.50,396.73 L126.00,396.84 L126.50,397.00 L127.00,397.23 L127.50,397.51 L128.00,397.84 L128.50,398.21 L129.00,398.62 L129.50,399.05 L130.00,399.49 L130.50,399.95 L131.00,400.40 L131.50,400.85 L132.00,401.29 L132.50,401.70 L133.00,402.10 L133.50,402.46 L134.00,402.80 L134.50,403.11 L135.00,403.39 L135.50,403.64 L136.00,403.86 L136.50,404.05 L137.00,404.22 L137.50,404.36 L138.00,404.48 L138.50,404.58 L139.00,404.67 L139.50,404.74 L140.00,404.79 L140.50,404.84 L141.00,404.88 L141.50,404.90 L142.00,404.93 L142.50,404.95 L143.00,404.96 L143.50,404.97 L144.00,404.98 L144.50,404.98 L145.00,404.99 L145.50,404.99 L146.00,404.99 L146.50,405.00 L147.00,405.00 L147.50,405.00 L148.00,405.00 L148.50,405.00 L149.00,405.00 L149.50,405.00 L150.00,405.00 L150.50,405.00 L151.00,405.00 L151.50,405.00 L152.00,405.00 L152.50,405.00 L153.00,405.00 L153.50,405.00 L154.00,405.00 L154.50,405.00 L155.00,405.00 L155.50,405.00 L156.00,405.00 L156.50,405.00 L157.00,405.00 L157.50,405.00 L158.00,405.00 L158.50,405.00 L159.00,405.00 L159.50,405.00 L160.00,405.00 L160.50,405.00 L161.00,405.00 L161.50,405.00 L162.00,405.00 L162.50,405.00 L163.00,405.00 L163.50,405.00 L164.00,405.00 L164.50,405.00 L165.00,405.00 L165.50,405.00 L166.00,405.00 L166.50,405.00 L167.00,405.00 L167.50,405.00 L168.00,405.00 L168.50,405.00 L169.00,405.00 L169.50,405.00 L170.00,405.00 L170.50,405.00 L171.00,405.00 L171.50,405.00 L172.00,405.00 L172.50,405.00 L173.00,405.00 L173.50,405.00 L174.00,405.00 L174.50,405.00 L175.00,405.00 L175.50,405.00 L176.00,405.00 L176.50,405.00 L177.00,405.00 L177.50,405.00 L178.00,405.00 L178.50,405.00 L179.00,405.00 L179.50,405.00 L180.00,405.00 L180.50,405.00 L181.00,405.00 L181.50,405.00 L182.00,405.00 L182.50,405.00 L183.00,405.00 L183.50,405.00 L184.00,405.00 L184.50,405.00 L185.00,405.00 L185.50,405.00 L186.00,405.00 L186.50,405.00 L187.00,405.00 L187.50,405.00 L188.00,405.00 L188.50,405.00 L189.00,405.00 L189.50,405.00 L190.00,405.00" stroke="#ff0000" stroke-width="2.3" fill="none"/>
<path d="M64.50,404.94 L65.00,404.94 L65.50,404.93 L66.00,404.93 L66.50,404.93 L67.00,404.93 L67.50,404.93 L68.00,404.93 L68.50,404.93 L69.00,404.93 L69.50,404.93 L70.00,404.93 L70.50,404.93 L71.00,404.92 L71.50,404.92 L72.00,404.92 L72.50,404.92 L73.00,404.92 L73.50,404.92 L74.00,404.92 L74.50,404.92 L75.00,404.92 L75.50,404.92 L76.00,404.91 L76.50,404.91 L77.00,404.91 L77.50,404.91 L78.00,404.91 L78.50,404.91 L79.00,404.91 L79.50,404.91 L80.00,404.90 L80.50,404.90 L81.00,404.90 L81.50,404.90 L82.00,404.90 L82.50,404.90 L83.00,404.89 L83.50,404.89 L84.00,404.89 L84.50,404.89 L85.00,404.89 L85.50,404.89 L86.00,404.88 L86.50,404.88 L87.00,404.88 L87.50,404.88 L88.00,404.87 L88.50,404.87 L89.00,404.87 L89.50,404.87 L90.00,404.86 L90.50,404.86 L91.00,404.86 L91.50,404.86 L92.00,404.85 L92.50,404.85 L93.00,404.85 L93.50,404.84 L94.00,404.84 L94.50,404.83 L95.00,404.83 L95.50,404.82 L96.00,404.82 L96.50,404.81 L97.00,404.81 L97.50,404.80 L98.00,404.80 L98.50,404.79 L99.00,404.78 L99.50,404.77 L100.00,404.77 L100.50,404.76 L101.00,404.75 L101.50,404.74 L102.00,404.73 L102.50,404.71 L103.00,404.70 L103.50,404.69 L104.00,404.67 L104.50,404.66 L105.00,404.64 L105.50,404.62 L106.00,404.60 L106.50,404.58 L107.00,404.56 L107.50,404.54 L108.00,404.51 L108.50,404.49 L109.00,404.46 L109.50,404.43 L110.00,404.40 L110.50,404.36 L111.00,404.32 L111.50,404.29 L112.00,404.25 L112.50,404.20 L113.00,404.16 L113.50,404.11 L114.00,404.05 L114.50,404.00 L115.00,403.94 L115.50,403.88 L116.00,403.82 L116.50,403.75 L117.00,403.68 L117.50,403.61 L118.00,403.53 L118.50,403.45 L119.00,403.36 L119.50,403.28 L120.00,403.19 L120.50,403.09 L121.00,402.99 L121.50,402.89 L122.00,402.78 L122.50,402.67 L123.00,402.56 L123.50,402.44 L124.00,402.32 L124.50,402.20 L125.00,402.07 L125.50,401.94 L126.00,401.81 L126.50,401.67 L127.00,401.53 L127.50,401.39 L128.00,401.25 L128.50,401.10 L129.00,400.96 L129.50,400.81 L130.00,400.66 L130.50,400.51 L131.00,400.36 L131.50,400.20 L132.00,400.05 L132.50,399.90 L133.00,399.75 L133.50,399.60 L134.00,399.45 L134.50,399.31 L135.00,399.17 L135.50,399.02 L136.00,398.89 L136.50,398.75 L137.00,398.63 L137.50,398.50 L138.00,398.38 L138.50,398.27 L139.00,398.16 L139.50,398.06 L140.00,397.97 L140.50,397.88 L141.00,397.80 L141.50,397.73 L142.00,397.67 L142.50,397.62 L143.00,397.58 L143.50,397.54 L144.00,397.52 L144.50,397.50 L145.00,397.50 L145.50,397.50 L146.00,397.52 L146.50,397.54 L147.00,397.57 L147.50,397.61 L148.00,397.65 L148.50,397.71 L149.00,397.77 L149.50,397.84 L150.00,397.92 L150.50,398.00 L151.00,398.09 L151.50,398.19 L152.00,398.29" stroke="#0000ff" stroke-width="2.3" fill="none"/>
<path d="M23.30,404.88 L23.80,404.88 L24.30,404.87 L24.80,404.87 L25.30,404.87 L25.80,404.87 L26.30,404.87 L26.80,404.87 L27.30,404.86 L27.80,404.86 L28.30,404.86 L28.80,404.86 L29.30,404.86 L29.80,404.85 L30.30,404.85 L30.80,404.85 L31.30,404.85 L31.80,404.85 L32.30,404.84 L32.80,404.84 L33.30,404.84 L33.80,404.84 L34.30,404.84 L34.80,404.83 L35.30,404.83 L35.80,404.83 L36.30,404.83 L36.80,404.82 L37.30,404.82 L37.80,404.82 L38.30,404.82 L38.80,404.81 L39.30,404.81 L39.80,404.81 L40.30,404.80 L40.80,404.80 L41.30,404.80 L41.80,404.80 L42.30,404.79 L42.80,404.79 L43.30,404.79 L43.80,404.78 L44.30,404.78 L44.80,404.77 L45.30,404.77 L45.80,404.77 L46.30,404.76 L46.80,404.76 L47.30,404.75 L47.80,404.75 L48.30,404.75 L48.80,404.74 L49.30,404.74 L49.80,404.73 L50.30,404.73 L50.80,404.72 L51.30,404.72 L51.80,404.71 L52.30,404.70 L52.80,404.70 L53.30,404.69 L53.80,404.69 L54.30,404.68 L54.80,404.67 L55.30,404.67 L55.80,404.66 L56.30,404.65 L56.80,404.64 L57.30,404.63 L57.80,404.62 L58.30,404.61 L58.80,404.60 L59.30,404.59 L59.80,404.57 L60.30,404.56 L60.80,404.54 L61.30,404.53 L61.80,404.51 L62.30,404.48 L62.80,404.46 L63.30,404.43 L63.80,404.39 L64.30,404.36 L64.80,404.31 L65.30,404.26 L65.80,404.21 L66.30,404.14 L66.80,404.07 L67.30,403.98 L67.80,403.88 L68.30,403.77 L68.80,403.64 L69.30,403.50 L69.80,403.33 L70.30,403.14 L70.80,402.92 L71.30,402.67 L71.80,402.39 L72.30,402.08 L72.80,401.72 L73.30,401.32 L73.80,400.88 L74.30,400.38 L74.80,399.82 L75.30,399.20 L75.80,398.51 L76.30,397.75 L76.80,396.92 L77.30,396.00 L77.80,395.00 L78.30,393.91 L78.80,392.72 L79.30,391.43 L79.80,390.04 L80.30,388.55 L80.80,386.94 L81.30,385.23 L81.80,383.41 L82.30,381.48 L82.80,379.43 L83.30,377.29 L83.80,375.03 L84.30,372.68 L84.80,370.24 L85.30,367.71 L85.80,365.10 L86.30,362.42 L86.80,359.68 L87.30,356.90 L87.80,354.08 L88.30,351.25 L88.80,348.41 L89.30,345.59 L89.80,342.80 L90.30,340.05 L90.80,337.38 L91.30,334.79 L91.80,332.30 L92.30,329.94 L92.80,327.71 L93.30,325.65 L93.80,323.76 L94.30,322.07 L94.80,320.58 L95.30,319.31 L95.80,318.28 L96.30,317.48 L96.80,316.94 L97.30,316.65 L97.80,316.62 L98.30,316.83 L98.80,317.28 L99.30,317.97 L99.80,318.89 L100.30,320.02 L100.80,321.37 L101.30,322.91 L101.80,324.63 L102.30,326.52 L102.80,328.56 L103.30,330.73 L103.80,333.02 L104.30,335.41 L104.80,337.88 L105.30,340.42 L105.80,343.01 L106.30,345.63 L106.80,348.27 L107.30,350.91 L107.80,353.54 L108.30,356.15 L108.80,358.71 L109.30,361.22 L109.80,363.67 L110.30,366.04 L110.80,368.33 L111.30,370.52 L111.80,372.62 L112.30,374.60 L112.80,376.48 L113.30,378.23 L113.80,379.85 L114.30,381.35 L114.80,382.73 L115.30,383.97 L115.80,385.08 L116.30,386.06 L116.80,386.92 L117.30,387.66 L117.80,388.28 L118.30,388.80 L118.80,389.21 L119.30,389.54 L119.80,389.79 L120.30,389.98 L120.80,390.11 L121.30,390.20 L121.80,390.25 L122.30,390.30 L122.80,390.33 L123.30,390.37 L123.80,390.43 L124.30,390.51 L124.80,390.62 L125.30,390.76 L125.80,390.94 L126.30,391.16 L126.80,391.41 L127.30,391.70 L127.80,392.02 L128.30,392.36 L128.80,392.73 L129.30,393.11 L129.80,393.50 L130.30,393.88 L130.80,394.26 L131.30,394.63 L131.80,394.98 L132.30,395.31 L132.80,395.61 L133.30,395.89 L133.80,396.13 L134.30,396.34 L134.80,396.53 L135.30,396.68 L135.80,396.80 L136.30,396.90 L136.80,396.97 L137.30,397.02 L137.80,397.05 L138.30,397.06 L138.80,397.06 L139.30,397.05 L139.80,397.04 L140.30,397.02 L140.80,396.99 L141.30,396.97 L141.80,396.94 L142.30,396.92 L142.80,396.90 L143.30,396.89 L143.80,396.88 L144.30,396.89 L144.80,396.89 L145.30,396.91 L145.80,396.93 L146.30,396.97 L146.80,397.00 L147.30,397.05 L147.80,397.11 L148.30,397.17 L148.80,397.24 L149.30,397.31 L149.80,397.40 L150.30,397.49 L150.80,397.59 L151.30,397.69 L151.80,397.80 L152.30,397.91 L152.80,398.03 L153.30,398.15 L153.80,398.28 L154.30,398.41 L154.80,398.55 L155.30,398.68 L155.80,398.82 L156.30,398.97 L156.80,399.11 L157.30,399.26 L157.80,399.41 L158.30,399.55 L158.80,399.70 L159.30,399.85 L159.80,400.00 L160.30,400.15 L160.80,400.30 L161.30,400.44 L161.80,400.59 L162.30,400.73 L162.80,400.88 L163.30,401.02 L163.80,401.16 L164.30,401.29 L164.80,401.43 L165.30,401.56 L165.80,401.69 L166.30,401.81 L166.80,401.94 L167.30,402.06 L167.80,402.17 L168.30,402.29 L168.80,402.40 L169.30,402.51 L169.80,402.61 L170.30,402.71 L170.80,402.81 L171.30,402.90 L171.80,402.99 L172.30,403.08 L172.80,403.17 L173.30,403.25 L173.80,403.33 L174.30,403.40 L174.80,403.47 L175.30,403.54 L175.80,403.61 L176.30,403.67 L176.80,403.73 L177.30,403.78 L177.80,403.84 L178.30,403.89 L178.80,403.94 L179.30,403.99 L179.80,404.03 L180.30,404.07 L180.80,404.11 L181.30,404.15 L181.80,404.19 L182.30,404.22 L182.80,404.25 L183.30,404.28 L183.80,404.31 L184.30,404.34 L184.80,404.36 L185.30,404.39 L185.80,404.41 L186.30,404.43 L186.80,404.45 L187.30,404.47 L187.80,404.49 L188.30,404.50 L188.80,404.52 L189.30,404.53 L189.80,404.55 L190.30,404.56 L190.80,404.57 L191.30,404.58 L191.80,404.60 L192.30,404.61 L192.80,404.62 L193.30,404.63 L193.80,404.63 L194.30,404.64 L194.80,404.65 L195.30,404.66 L195.80,404.67 L196.30,404.67 L196.80,404.68 L197.30,404.68 L197.80,404.69 L198.30,404.70 L198.80,404.70 L199.30,404.71 L199.80,404.71 L200.30,404.72 L200.80,404.72 L201.30,404.73 L201.80,404.73 L202.30,404.73 L202.80,404.74 L203.30,404.74 L203.80,404.75 L204.30,404.75 L204.80,404.75 L205.30,404.76 L205.80,404.76 L206.30,404.76 L206.80,404.76 L207.30,404.77 L207.80,404.77 L208.30,404.77 L208.80,404.78 L209.30,404.78 L209.80,404.78 L210.30,404.78 L210.80,404.79 L211.30,404.79 L211.80,404.79 L212.30,404.79 L212.80,404.80 L213.30,404.80 L213.80,404.80 L214.30,404.80 L214.80,404.81 L215.30,404.81 L215.80,404.81 L216.30,404.81 L216.80,404.81 L217.30,404.82 L217.80,404.82 L218.30,404.82 L218.80,404.82 L219.30,404.82 L219.80,404.82 L220.30,404.83 L220.80,404.83 L221.30,404.83 L221.80,404.83 L222.30,404.83 L222.80,404.84 L223.30,404.84 L223.80,404.84 L224.30,404.84 L224.80,404.84 L225.30,404.84 L225.80,404.84 L226.30,404.85 L226.80,404.85 L227.30,404.85 L227.80,404.85 L228.30,404.85 L228.80,404.85 L229.30,404.85 L229.80,404.86 L230.30,404.86 L230.80,404.86 L231.30,404.86 L231.80,404.86 L232.30,404.86 L232.80,404.86 L233.30,404.86" stroke="#007a00" stroke-width="2.5" fill="none"/>
<path d="M64.50,404.94 L65.00,404.94 L65.50,404.93 L66.00,404.93 L66.50,404.93 L67.00,404.93 L67.50,404.93 L68.00,404.93 L68.50,404.93 L69.00,404.93 L69.50,404.93 L70.00,404.93 L70.50,404.93 L71.00,404.92 L71.50,404.92 L72.00,404.92 L72.50,404.92 L73.00,404.92 L73.50,404.92 L74.00,404.92 L74.50,404.92 L75.00,404.92 L75.50,404.92 L76.00,404.91 L76.50,404.91 L77.00,404.91 L77.50,404.91 L78.00,404.91 L78.50,404.91 L79.00,404.91 L79.50,404.91 L80.00,404.90 L80.50,404.90 L81.00,404.90 L81.50,404.90 L82.00,404.90 L82.50,404.90 L83.00,404.89 L83.50,404.89 L84.00,404.89 L84.50,404.89 L85.00,404.89 L85.50,404.89 L86.00,404.88 L86.50,404.88 L87.00,404.88 L87.50,404.88 L88.00,404.87 L88.50,404.87 L89.00,404.87 L89.50,404.87 L90.00,404.86 L90.50,404.86 L91.00,404.86 L91.50,404.86 L92.00,404.85 L92.50,404.85 L93.00,404.85 L93.50,404.84 L94.00,404.84 L94.50,404.83 L95.00,404.83 L95.50,404.82 L96.00,404.82 L96.50,404.81 L97.00,404.81 L97.50,404.80 L98.00,404.80 L98.50,404.79 L99.00,404.78 L99.50,404.77 L100.00,404.77" stroke="#0000ff" stroke-width="2.3" fill="none"/>
</g>
<g stroke="#000" stroke-width="2.5" stroke-dasharray="3.6 6.4" stroke-linecap="butt"><line x1="97.6" y1="21" x2="97.6" y2="412" /><line x1="128.5" y1="18" x2="125.7" y2="412" /><line x1="150.0" y1="77.5" x2="150.0" y2="412" /><line x1="170.2" y1="90" x2="170.2" y2="412" /></g>
<g stroke="#000" stroke-width="2.4" fill="none" stroke-linecap="square">
<path d="M23.3,2.3 H233.3 V103.4 H23.3 Z"/>
<path d="M23.3,108.6 V408.8 H233.3 V108.6"/>
<path d="M23.3,203.2 H233.3"/>
<path d="M23.3,308 H233.3"/>
</g>
<g stroke="#000" stroke-width="2.4"><line x1="23.30" y1="408.8" x2="23.30" y2="414.8"/><line x1="39.45" y1="408.8" x2="39.45" y2="412.4"/><line x1="55.60" y1="408.8" x2="55.60" y2="414.8"/><line x1="71.75" y1="408.8" x2="71.75" y2="412.4"/><line x1="87.90" y1="408.8" x2="87.90" y2="414.8"/><line x1="104.05" y1="408.8" x2="104.05" y2="412.4"/><line x1="120.20" y1="408.8" x2="120.20" y2="414.8"/><line x1="136.35" y1="408.8" x2="136.35" y2="412.4"/><line x1="152.50" y1="408.8" x2="152.50" y2="414.8"/><line x1="168.65" y1="408.8" x2="168.65" y2="412.4"/><line x1="184.80" y1="408.8" x2="184.80" y2="414.8"/><line x1="200.95" y1="408.8" x2="200.95" y2="412.4"/><line x1="217.10" y1="408.8" x2="217.10" y2="414.8"/><line x1="233.25" y1="408.8" x2="233.25" y2="412.4"/></g>
<g class="sans" font-size="13.3" fill="#000" stroke="#000" stroke-width="0.55"><text x="22.50" y="428.3" text-anchor="middle">280</text><text x="54.80" y="428.3" text-anchor="middle">282</text><text x="87.10" y="428.3" text-anchor="middle">284</text><text x="119.40" y="428.3" text-anchor="middle">286</text><text x="151.70" y="428.3" text-anchor="middle">288</text><text x="184.00" y="428.3" text-anchor="middle">290</text><text x="216.30" y="428.3" text-anchor="middle">292</text></g>
<g class="serif" font-weight="bold" fill="#000">
<text x="134.3" y="446.5" font-size="14.3" text-anchor="middle">Binding Energy (eV)</text>
<text x="36.5" y="27.3" font-size="16.3">(a)</text>
<text x="179.5" y="31.4" font-size="14">0 min</text>
<text x="174.4" y="143" font-size="14">60 min</text>
<text x="172.2" y="246.3" font-size="14">180 min</text>
<text x="170" y="347.2" font-size="14.5">300 min</text>
<text transform="translate(11.6,200.4) rotate(-90) scale(1.13,1)" font-size="14" text-anchor="middle">Intensity (a.u.)</text>
</g>
<g class="serif" fill="#000" font-size="13" stroke="#000" stroke-width="0.3">
<text x="80" y="16.6" letter-spacing="0.2">C=C</text>
<text x="112.9" y="14.1" font-size="12.3" letter-spacing="0.75">-C-O-C-/-OH</text>
<text x="145.5" y="56" letter-spacing="0.4">-C=O</text>
<text x="162.5" y="69.8" letter-spacing="0.6">O=C-OH</text>
</g>
<!-- right chart -->
<rect x="283.0" y="188.7" width="267.79999999999995" height="220.10000000000002" fill="none" stroke="#000" stroke-width="1.6"/>
<g stroke="#000" stroke-width="1.6"><line x1="283.0" y1="396.57" x2="286.0" y2="396.57"/><line x1="283.0" y1="384.34" x2="288.0" y2="384.34"/><line x1="283.0" y1="372.12" x2="286.0" y2="372.12"/><line x1="283.0" y1="359.89" x2="288.0" y2="359.89"/><line x1="283.0" y1="347.66" x2="286.0" y2="347.66"/><line x1="283.0" y1="335.43" x2="288.0" y2="335.43"/><line x1="283.0" y1="323.20" x2="286.0" y2="323.20"/><line x1="283.0" y1="310.98" x2="288.0" y2="310.98"/><line x1="283.0" y1="298.75" x2="286.0" y2="298.75"/><line x1="283.0" y1="286.52" x2="288.0" y2="286.52"/><line x1="283.0" y1="274.29" x2="286.0" y2="274.29"/><line x1="283.0" y1="262.06" x2="288.0" y2="262.06"/><line x1="283.0" y1="249.84" x2="286.0" y2="249.84"/><line x1="283.0" y1="237.61" x2="288.0" y2="237.61"/><line x1="283.0" y1="225.38" x2="286.0" y2="225.38"/><line x1="283.0" y1="213.15" x2="288.0" y2="213.15"/><line x1="283.0" y1="200.92" x2="286.0" y2="200.92"/><line x1="302.20" y1="408.8" x2="302.20" y2="403.8"/><line x1="321.24" y1="408.8" x2="321.24" y2="405.8"/><line x1="340.28" y1="408.8" x2="340.28" y2="403.8"/><line x1="359.32" y1="408.8" x2="359.32" y2="405.8"/><line x1="378.36" y1="408.8" x2="378.36" y2="403.8"/><line x1="397.40" y1="408.8" x2="397.40" y2="405.8"/><line x1="416.44" y1="408.8" x2="416.44" y2="403.8"/><line x1="435.48" y1="408.8" x2="435.48" y2="405.8"/><line x1="454.52" y1="408.8" x2="454.52" y2="403.8"/><line x1="473.56" y1="408.8" x2="473.56" y2="405.8"/><line x1="492.60" y1="408.8" x2="492.60" y2="403.8"/><line x1="511.64" y1="408.8" x2="511.64" y2="405.8"/><line x1="530.68" y1="408.8" x2="530.68" y2="403.8"/></g>
<g class="serif" font-size="11.2" fill="#000" stroke="#000" stroke-width="0.25"><text x="277.5" y="411.70" text-anchor="end">0</text><text x="277.5" y="387.24" text-anchor="end">10</text><text x="277.5" y="362.79" text-anchor="end">20</text><text x="277.5" y="338.33" text-anchor="end">30</text><text x="277.5" y="313.88" text-anchor="end">40</text><text x="277.5" y="289.42" text-anchor="end">50</text><text x="277.5" y="264.96" text-anchor="end">60</text><text x="277.5" y="240.51" text-anchor="end">70</text><text x="277.5" y="216.05" text-anchor="end">80</text><text x="277.5" y="191.60" text-anchor="end">90</text><text x="302.20" y="423.3" text-anchor="middle">0</text><text x="340.28" y="423.3" text-anchor="middle">50</text><text x="378.36" y="423.3" text-anchor="middle">100</text><text x="416.44" y="423.3" text-anchor="middle">150</text><text x="454.52" y="423.3" text-anchor="middle">200</text><text x="492.60" y="423.3" text-anchor="middle">250</text><text x="530.68" y="423.3" text-anchor="middle">300</text></g>
<g stroke-linejoin="round"><path d="M302.20,281.63 C304.94,281.48 339.67,280.91 347.90,279.18 C356.12,277.45 428.32,257.22 439.29,252.77 C450.26,248.32 525.20,207.94 530.68,205.08" stroke="#000" stroke-width="1.7" fill="none"/><path d="M302.20,326.87 C303.42,327.04 344.24,332.22 347.90,332.99 C351.55,333.76 434.41,354.02 439.29,355.73 C444.16,357.44 528.24,395.96 530.68,397.06" stroke="#ff0000" stroke-width="1.8" fill="none"/><path d="M302.20,371.87 C303.72,371.88 343.33,372.20 347.90,372.24 C352.47,372.28 433.20,372.85 439.29,373.09 C445.38,373.34 527.63,379.48 530.68,379.70" stroke="#14ff14" stroke-width="1.7" fill="none"/><path d="M302.20,277.47 V285.79 M299.70,277.47 H304.70 M299.70,285.79 H304.70" stroke="#000" stroke-width="1.2" fill="none"/><rect x="299.80" y="279.23" width="4.8" height="4.8" fill="#000"/><path d="M347.90,275.03 V283.34 M345.40,275.03 H350.40 M345.40,283.34 H350.40" stroke="#000" stroke-width="1.2" fill="none"/><rect x="345.50" y="276.78" width="4.8" height="4.8" fill="#000"/><path d="M439.29,248.37 V257.17 M436.79,248.37 H441.79 M436.79,257.17 H441.79" stroke="#000" stroke-width="1.2" fill="none"/><rect x="436.89" y="250.37" width="4.8" height="4.8" fill="#000"/><path d="M530.68,198.72 V211.44 M528.18,198.72 H533.18 M528.18,211.44 H533.18" stroke="#000" stroke-width="1.2" fill="none"/><rect x="528.28" y="202.68" width="4.8" height="4.8" fill="#000"/><path d="M302.20,322.96 V330.79 M299.70,322.96 H304.70 M299.70,330.79 H304.70" stroke="#ff0000" stroke-width="1.2" fill="none"/><circle cx="302.20" cy="326.87" r="2.6" fill="#ff0000"/><path d="M347.90,329.07 V336.90 M345.40,329.07 H350.40 M345.40,336.90 H350.40" stroke="#ff0000" stroke-width="1.2" fill="none"/><circle cx="347.90" cy="332.99" r="2.6" fill="#ff0000"/><path d="M439.29,353.53 V357.93 M436.79,353.53 H441.79 M436.79,357.93 H441.79" stroke="#ff0000" stroke-width="1.2" fill="none"/><circle cx="439.29" cy="355.73" r="2.6" fill="#ff0000"/><circle cx="530.68" cy="397.06" r="2.6" fill="#ff0000"/><path d="M299.00,374.37 L302.20,368.67 L305.40,374.37 Z" fill="#14ff14"/><path d="M344.70,374.74 L347.90,369.04 L351.10,374.74 Z" fill="#14ff14"/><path d="M436.09,375.59 L439.29,369.89 L442.49,375.59 Z" fill="#14ff14"/><path d="M527.48,382.20 L530.68,376.50 L533.88,382.20 Z" fill="#14ff14"/></g>
<rect x="444.8" y="281.8" width="84.8" height="45" fill="#fff" stroke="#222" stroke-width="1.1"/>
<line x1="448.5" y1="292" x2="471" y2="292" stroke="#000" stroke-width="1.8"/>
<rect x="458.1" y="289.8" width="4.4" height="4.4" fill="#000"/>
<line x1="448.5" y1="305.9" x2="471" y2="305.9" stroke="#ff0000" stroke-width="1.8"/>
<circle cx="460.3" cy="305.9" r="2.4" fill="#ff0000"/>
<line x1="448.5" y1="319.8" x2="471" y2="319.8" stroke="#14ff14" stroke-width="1.8"/>
<path d="M457.5,322.1 L460.3,316.9 L463.1,322.1 Z" fill="#14ff14"/>

<g class="serif" font-weight="bold" fill="#000">
<text transform="translate(324.6,204) scale(0.86,1)" font-size="12.5"><tspan font-weight="normal">(</tspan>b<tspan font-weight="normal"> )</tspan></text>
<text transform="translate(416.3,439.3) scale(0.8,1)" font-size="12.8" font-weight="normal" stroke="#000" stroke-width="0.5" letter-spacing="1.3" text-anchor="middle">Reduction Time (min)</text>
<text transform="translate(259.8,305.7) rotate(-90) scale(0.8,1)" font-size="14.5" font-weight="normal" stroke="#000" stroke-width="0.5" letter-spacing="1.0" text-anchor="middle">Carbon bonds (at %)</text>
<text x="470.9" y="295" font-size="10">C=C</text>
<text x="471" y="309" font-size="10">-C-O-C-/-OH</text>
<text x="472.9" y="323" font-size="10">-C=O</text>
</g>
</svg>
</body></html>
